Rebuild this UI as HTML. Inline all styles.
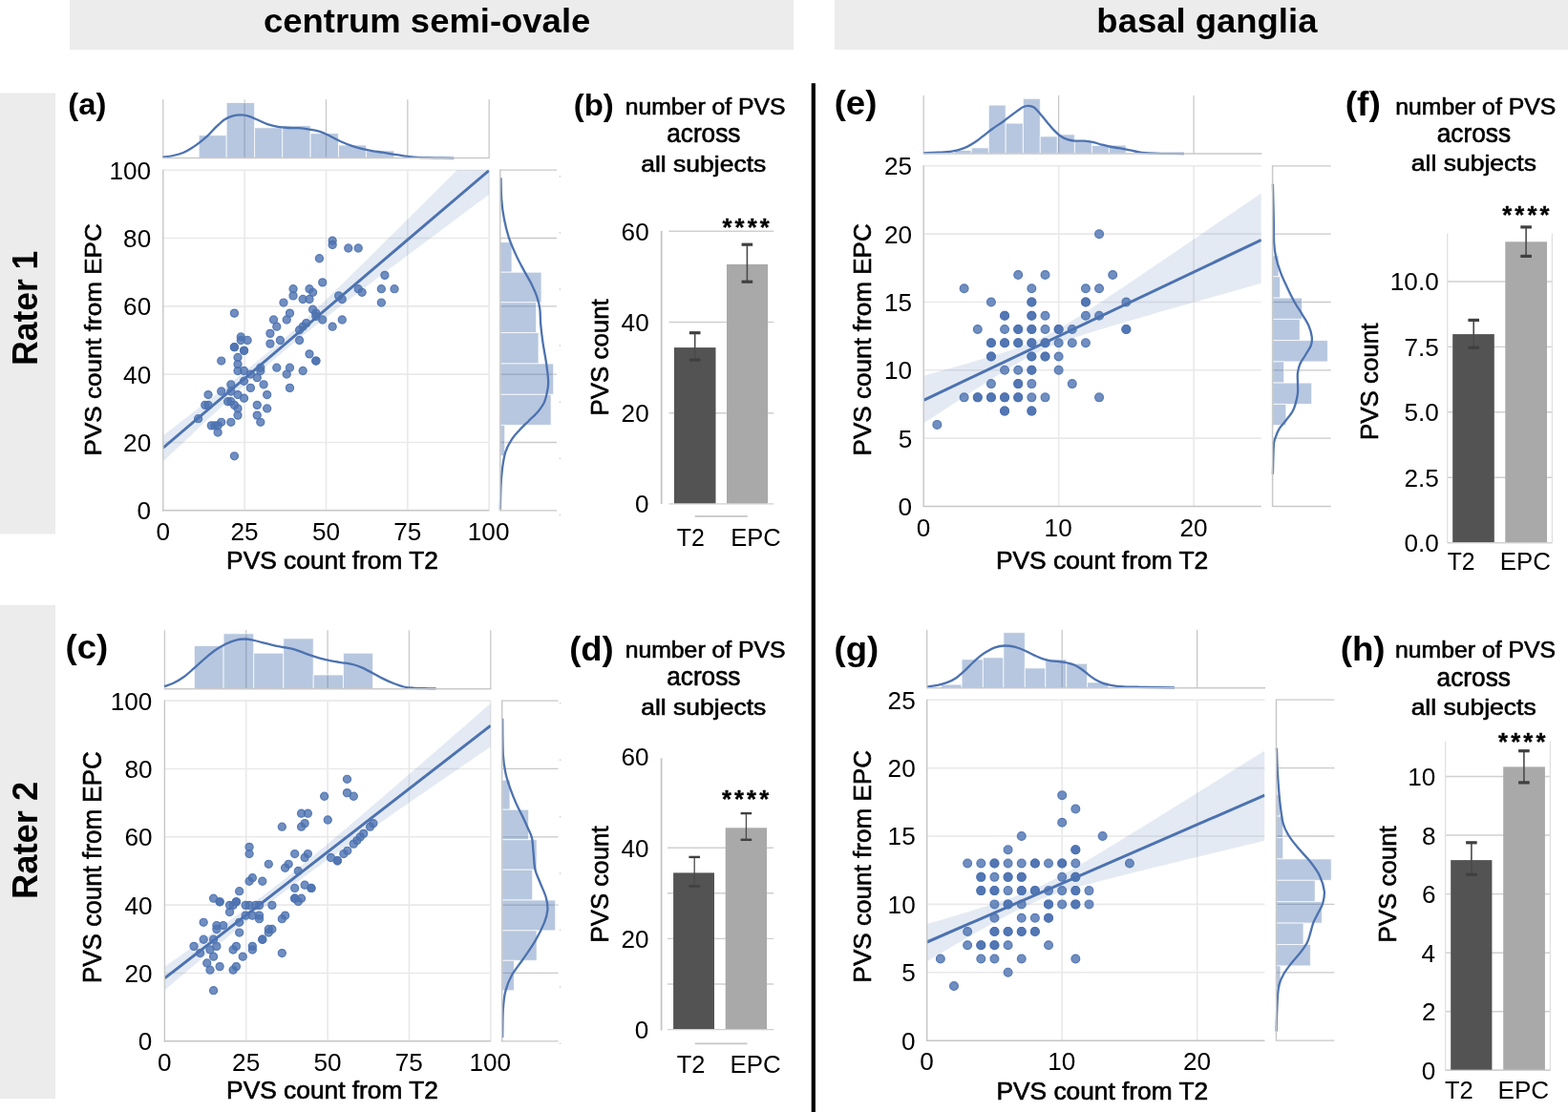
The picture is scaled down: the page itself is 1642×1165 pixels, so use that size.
<!DOCTYPE html>
<html><head><meta charset="utf-8"><title>PVS figure</title>
<style>html,body{margin:0;padding:0;background:#fff;}svg{display:block;}</style>
</head><body>
<svg width="1642" height="1165" viewBox="0 0 1642 1165" font-family="'Liberation Sans', Arial, Helvetica, sans-serif">
<rect x="0" y="0" width="1642" height="1165" fill="#fff"/>
<rect x="73" y="0" width="758" height="52" fill="#ececec"/>
<rect x="874" y="0" width="768" height="52" fill="#ececec"/>
<text transform="translate(275.94,34.3) scale(1.0646,1)" font-size="34.25" font-weight="bold" fill="#000">centrum semi-ovale</text>
<text transform="translate(1148.35,34.3) scale(1.0651,1)" font-size="34.25" font-weight="bold" fill="#000">basal ganglia</text>
<rect x="0" y="97.5" width="58" height="462" fill="#ececec"/>
<rect x="0" y="634" width="58" height="517" fill="#ececec"/>
<text transform="translate(38.7,382.68) rotate(-90) scale(0.9649,1)" font-size="36.67" font-weight="bold">Rater 1</text>
<text transform="translate(39.4,941.94) rotate(-90) scale(0.9673,1)" font-size="37.57" font-weight="bold">Rater 2</text>
<rect x="849.7" y="87.2" width="4.2" height="1077.8" fill="#000"/>
<text transform="translate(71.26,119.99) scale(1.0406,1)" font-size="31.49" font-weight="bold" fill="#000">(a)</text>
<text transform="translate(600.75,120.78) scale(1.0295,1)" font-size="32.02" font-weight="bold" fill="#000">(b)</text>
<text transform="translate(68.47,690.26) scale(1.0621,1)" font-size="34.47" font-weight="bold" fill="#000">(c)</text>
<text transform="translate(596.18,692.21) scale(1.0638,1)" font-size="34.26" font-weight="bold" fill="#000">(d)</text>
<text transform="translate(873.67,120.31) scale(1.0687,1)" font-size="34.26" font-weight="bold" fill="#000">(e)</text>
<text transform="translate(1408.64,120.58) scale(1.0832,1)" font-size="34.36" font-weight="bold" fill="#000">(f)</text>
<text transform="translate(873.47,691.94) scale(1.0564,1)" font-size="34.57" font-weight="bold" fill="#000">(g)</text>
<text transform="translate(1403.66,691.94) scale(1.0638,1)" font-size="34.57" font-weight="bold" fill="#000">(h)</text>
<line x1="256.15" y1="178.2" x2="256.15" y2="534.8" stroke="#e9e9e9" stroke-width="1.6"/>
<line x1="341.5" y1="178.2" x2="341.5" y2="534.8" stroke="#e9e9e9" stroke-width="1.6"/>
<line x1="426.85" y1="178.2" x2="426.85" y2="534.8" stroke="#e9e9e9" stroke-width="1.6"/>
<line x1="512.2" y1="178.2" x2="512.2" y2="534.8" stroke="#e9e9e9" stroke-width="1.6"/>
<line x1="170.8" y1="463.48" x2="512.2" y2="463.48" stroke="#e9e9e9" stroke-width="1.6"/>
<line x1="170.8" y1="392.16" x2="512.2" y2="392.16" stroke="#e9e9e9" stroke-width="1.6"/>
<line x1="170.8" y1="320.84" x2="512.2" y2="320.84" stroke="#e9e9e9" stroke-width="1.6"/>
<line x1="170.8" y1="249.52" x2="512.2" y2="249.52" stroke="#e9e9e9" stroke-width="1.6"/>
<line x1="170.8" y1="178.2" x2="512.2" y2="178.2" stroke="#e9e9e9" stroke-width="1.6"/>
<clipPath id="c1"><rect x="170.8" y="178.2" width="341.4" height="356.6"/></clipPath>
<g clip-path="url(#c1)">
<path d="M170.8,456.3 L175.07,453.01 L179.34,449.72 L183.6,446.42 L187.87,443.12 L192.14,439.81 L196.41,436.5 L200.67,433.18 L204.94,429.86 L209.21,426.53 L213.48,423.2 L217.74,419.85 L222.01,416.5 L226.28,413.14 L230.55,409.78 L234.81,406.4 L239.08,403 L243.35,399.6 L247.62,396.18 L251.88,392.75 L256.15,389.3 L260.42,385.83 L264.69,382.34 L268.95,378.83 L273.22,375.3 L277.49,371.75 L281.75,368.18 L286.02,364.58 L290.29,360.95 L294.56,357.29 L298.83,353.55 L303.09,349.76 L307.36,345.92 L311.63,342.02 L315.89,338.08 L320.16,334.1 L324.43,330.09 L328.7,326.04 L332.97,321.97 L337.23,317.88 L341.5,313.76 L345.77,309.63 L350.04,305.49 L354.3,301.33 L358.57,297.16 L362.84,292.98 L367.11,288.8 L371.37,284.6 L375.64,280.4 L379.91,276.2 L384.18,271.99 L388.44,267.77 L392.71,263.55 L396.98,259.32 L401.25,255.1 L405.51,250.87 L409.78,246.63 L414.05,242.4 L418.32,238.16 L422.58,233.92 L426.85,229.68 L431.12,225.43 L435.39,221.19 L439.65,216.94 L443.92,212.69 L448.19,208.44 L452.46,204.19 L456.72,199.94 L460.99,195.69 L465.26,191.44 L469.53,187.18 L473.79,182.93 L478.06,178.67 L482.33,174.41 L486.6,170.16 L490.86,165.9 L495.13,161.64 L499.4,157.38 L503.67,153.12 L507.93,148.86 L512.2,144.6 L512.2,203.7 L507.93,206.88 L503.67,210.07 L499.4,213.25 L495.13,216.43 L490.86,219.62 L486.6,222.8 L482.33,225.99 L478.06,229.18 L473.79,232.37 L469.53,235.55 L465.26,238.75 L460.99,241.94 L456.72,245.13 L452.46,248.32 L448.19,251.52 L443.92,254.71 L439.65,257.91 L435.39,261.11 L431.12,264.31 L426.85,267.52 L422.58,270.72 L418.32,273.93 L414.05,277.14 L409.78,280.36 L405.51,283.57 L401.25,286.79 L396.98,290.01 L392.71,293.24 L388.44,296.47 L384.18,299.71 L379.91,302.95 L375.64,306.2 L371.37,309.45 L367.11,312.71 L362.84,315.97 L358.57,319.25 L354.3,322.53 L350.04,325.83 L345.77,329.14 L341.5,332.46 L337.23,335.79 L332.97,339.14 L328.7,342.51 L324.43,345.9 L320.16,349.31 L315.89,352.74 L311.63,356.2 L307.36,359.69 L303.09,363.21 L298.83,366.76 L294.56,370.34 L290.29,373.96 L286.02,377.6 L281.75,381.28 L277.49,384.99 L273.22,388.74 L268.95,392.51 L264.69,396.31 L260.42,400.13 L256.15,403.98 L251.88,407.85 L247.62,411.74 L243.35,415.64 L239.08,419.57 L234.81,423.51 L230.55,427.46 L226.28,431.42 L222.01,435.39 L217.74,439.37 L213.48,443.36 L209.21,447.36 L204.94,451.37 L200.67,455.38 L196.41,459.4 L192.14,463.42 L187.87,467.45 L183.6,471.48 L179.34,475.52 L175.07,479.56 L170.8,483.6Z" fill="#4c72b0" fill-opacity="0.15"/>
<circle cx="348.15" cy="252.17" r="4.05" fill="#4c72b0" fill-opacity="0.8" stroke="#4c72b0" stroke-opacity="0.9" stroke-width="1.2"/>
<circle cx="348.15" cy="256.41" r="4.05" fill="#4c72b0" fill-opacity="0.8" stroke="#4c72b0" stroke-opacity="0.9" stroke-width="1.2"/>
<circle cx="364.78" cy="260" r="4.05" fill="#4c72b0" fill-opacity="0.8" stroke="#4c72b0" stroke-opacity="0.9" stroke-width="1.2"/>
<circle cx="375.22" cy="260" r="4.05" fill="#4c72b0" fill-opacity="0.8" stroke="#4c72b0" stroke-opacity="0.9" stroke-width="1.2"/>
<circle cx="334.45" cy="270.76" r="4.05" fill="#4c72b0" fill-opacity="0.8" stroke="#4c72b0" stroke-opacity="0.9" stroke-width="1.2"/>
<circle cx="402.93" cy="288.37" r="4.05" fill="#4c72b0" fill-opacity="0.8" stroke="#4c72b0" stroke-opacity="0.9" stroke-width="1.2"/>
<circle cx="337.72" cy="295.87" r="4.05" fill="#4c72b0" fill-opacity="0.8" stroke="#4c72b0" stroke-opacity="0.9" stroke-width="1.2"/>
<circle cx="307.06" cy="302.72" r="4.05" fill="#4c72b0" fill-opacity="0.8" stroke="#4c72b0" stroke-opacity="0.9" stroke-width="1.2"/>
<circle cx="324.02" cy="302.72" r="4.05" fill="#4c72b0" fill-opacity="0.8" stroke="#4c72b0" stroke-opacity="0.9" stroke-width="1.2"/>
<circle cx="327.61" cy="306.3" r="4.05" fill="#4c72b0" fill-opacity="0.8" stroke="#4c72b0" stroke-opacity="0.9" stroke-width="1.2"/>
<circle cx="375.22" cy="302.72" r="4.05" fill="#4c72b0" fill-opacity="0.8" stroke="#4c72b0" stroke-opacity="0.9" stroke-width="1.2"/>
<circle cx="379.13" cy="306.3" r="4.05" fill="#4c72b0" fill-opacity="0.8" stroke="#4c72b0" stroke-opacity="0.9" stroke-width="1.2"/>
<circle cx="399.35" cy="302.72" r="4.05" fill="#4c72b0" fill-opacity="0.8" stroke="#4c72b0" stroke-opacity="0.9" stroke-width="1.2"/>
<circle cx="413.04" cy="302.72" r="4.05" fill="#4c72b0" fill-opacity="0.8" stroke="#4c72b0" stroke-opacity="0.9" stroke-width="1.2"/>
<circle cx="307.06" cy="309.89" r="4.05" fill="#4c72b0" fill-opacity="0.8" stroke="#4c72b0" stroke-opacity="0.9" stroke-width="1.2"/>
<circle cx="317.17" cy="313.48" r="4.05" fill="#4c72b0" fill-opacity="0.8" stroke="#4c72b0" stroke-opacity="0.9" stroke-width="1.2"/>
<circle cx="324.02" cy="313.48" r="4.05" fill="#4c72b0" fill-opacity="0.8" stroke="#4c72b0" stroke-opacity="0.9" stroke-width="1.2"/>
<circle cx="354.67" cy="309.89" r="4.05" fill="#4c72b0" fill-opacity="0.8" stroke="#4c72b0" stroke-opacity="0.9" stroke-width="1.2"/>
<circle cx="358.26" cy="313.48" r="4.05" fill="#4c72b0" fill-opacity="0.8" stroke="#4c72b0" stroke-opacity="0.9" stroke-width="1.2"/>
<circle cx="296.96" cy="317.06" r="4.05" fill="#4c72b0" fill-opacity="0.8" stroke="#4c72b0" stroke-opacity="0.9" stroke-width="1.2"/>
<circle cx="399.35" cy="317.06" r="4.05" fill="#4c72b0" fill-opacity="0.8" stroke="#4c72b0" stroke-opacity="0.9" stroke-width="1.2"/>
<circle cx="245.43" cy="328.15" r="4.05" fill="#4c72b0" fill-opacity="0.8" stroke="#4c72b0" stroke-opacity="0.9" stroke-width="1.2"/>
<circle cx="303.48" cy="328.15" r="4.05" fill="#4c72b0" fill-opacity="0.8" stroke="#4c72b0" stroke-opacity="0.9" stroke-width="1.2"/>
<circle cx="327.61" cy="324.24" r="4.05" fill="#4c72b0" fill-opacity="0.8" stroke="#4c72b0" stroke-opacity="0.9" stroke-width="1.2"/>
<circle cx="330.87" cy="328.15" r="4.05" fill="#4c72b0" fill-opacity="0.8" stroke="#4c72b0" stroke-opacity="0.9" stroke-width="1.2"/>
<circle cx="330.87" cy="331.41" r="4.05" fill="#4c72b0" fill-opacity="0.8" stroke="#4c72b0" stroke-opacity="0.9" stroke-width="1.2"/>
<circle cx="286.52" cy="335" r="4.05" fill="#4c72b0" fill-opacity="0.8" stroke="#4c72b0" stroke-opacity="0.9" stroke-width="1.2"/>
<circle cx="300.22" cy="335" r="4.05" fill="#4c72b0" fill-opacity="0.8" stroke="#4c72b0" stroke-opacity="0.9" stroke-width="1.2"/>
<circle cx="337.72" cy="335" r="4.05" fill="#4c72b0" fill-opacity="0.8" stroke="#4c72b0" stroke-opacity="0.9" stroke-width="1.2"/>
<circle cx="358.26" cy="335" r="4.05" fill="#4c72b0" fill-opacity="0.8" stroke="#4c72b0" stroke-opacity="0.9" stroke-width="1.2"/>
<circle cx="289.78" cy="342.17" r="4.05" fill="#4c72b0" fill-opacity="0.8" stroke="#4c72b0" stroke-opacity="0.9" stroke-width="1.2"/>
<circle cx="320.76" cy="338.59" r="4.05" fill="#4c72b0" fill-opacity="0.8" stroke="#4c72b0" stroke-opacity="0.9" stroke-width="1.2"/>
<circle cx="317.17" cy="342.17" r="4.05" fill="#4c72b0" fill-opacity="0.8" stroke="#4c72b0" stroke-opacity="0.9" stroke-width="1.2"/>
<circle cx="313.59" cy="345.76" r="4.05" fill="#4c72b0" fill-opacity="0.8" stroke="#4c72b0" stroke-opacity="0.9" stroke-width="1.2"/>
<circle cx="348.15" cy="342.17" r="4.05" fill="#4c72b0" fill-opacity="0.8" stroke="#4c72b0" stroke-opacity="0.9" stroke-width="1.2"/>
<circle cx="282.93" cy="349.35" r="4.05" fill="#4c72b0" fill-opacity="0.8" stroke="#4c72b0" stroke-opacity="0.9" stroke-width="1.2"/>
<circle cx="252.28" cy="352.93" r="4.05" fill="#4c72b0" fill-opacity="0.8" stroke="#4c72b0" stroke-opacity="0.9" stroke-width="1.2"/>
<circle cx="252.28" cy="356.52" r="4.05" fill="#4c72b0" fill-opacity="0.8" stroke="#4c72b0" stroke-opacity="0.9" stroke-width="1.2"/>
<circle cx="259.13" cy="356.52" r="4.05" fill="#4c72b0" fill-opacity="0.8" stroke="#4c72b0" stroke-opacity="0.9" stroke-width="1.2"/>
<circle cx="293.37" cy="356.52" r="4.05" fill="#4c72b0" fill-opacity="0.8" stroke="#4c72b0" stroke-opacity="0.9" stroke-width="1.2"/>
<circle cx="313.59" cy="356.52" r="4.05" fill="#4c72b0" fill-opacity="0.8" stroke="#4c72b0" stroke-opacity="0.9" stroke-width="1.2"/>
<circle cx="282.93" cy="360.11" r="4.05" fill="#4c72b0" fill-opacity="0.8" stroke="#4c72b0" stroke-opacity="0.9" stroke-width="1.2"/>
<circle cx="245.43" cy="363.69" r="4.05" fill="#4c72b0" fill-opacity="0.8" stroke="#4c72b0" stroke-opacity="0.9" stroke-width="1.2"/>
<circle cx="245.43" cy="363.69" r="4.05" fill="#4c72b0" fill-opacity="0.8" stroke="#4c72b0" stroke-opacity="0.9" stroke-width="1.2"/>
<circle cx="255.54" cy="367.28" r="4.05" fill="#4c72b0" fill-opacity="0.8" stroke="#4c72b0" stroke-opacity="0.9" stroke-width="1.2"/>
<circle cx="255.54" cy="367.28" r="4.05" fill="#4c72b0" fill-opacity="0.8" stroke="#4c72b0" stroke-opacity="0.9" stroke-width="1.2"/>
<circle cx="324.02" cy="370.87" r="4.05" fill="#4c72b0" fill-opacity="0.8" stroke="#4c72b0" stroke-opacity="0.9" stroke-width="1.2"/>
<circle cx="231.74" cy="378.04" r="4.05" fill="#4c72b0" fill-opacity="0.8" stroke="#4c72b0" stroke-opacity="0.9" stroke-width="1.2"/>
<circle cx="249.02" cy="374.45" r="4.05" fill="#4c72b0" fill-opacity="0.8" stroke="#4c72b0" stroke-opacity="0.9" stroke-width="1.2"/>
<circle cx="249.02" cy="381.63" r="4.05" fill="#4c72b0" fill-opacity="0.8" stroke="#4c72b0" stroke-opacity="0.9" stroke-width="1.2"/>
<circle cx="330.87" cy="378.04" r="4.05" fill="#4c72b0" fill-opacity="0.8" stroke="#4c72b0" stroke-opacity="0.9" stroke-width="1.2"/>
<circle cx="330.87" cy="378.04" r="4.05" fill="#4c72b0" fill-opacity="0.8" stroke="#4c72b0" stroke-opacity="0.9" stroke-width="1.2"/>
<circle cx="249.02" cy="388.48" r="4.05" fill="#4c72b0" fill-opacity="0.8" stroke="#4c72b0" stroke-opacity="0.9" stroke-width="1.2"/>
<circle cx="255.54" cy="388.48" r="4.05" fill="#4c72b0" fill-opacity="0.8" stroke="#4c72b0" stroke-opacity="0.9" stroke-width="1.2"/>
<circle cx="272.82" cy="385.22" r="4.05" fill="#4c72b0" fill-opacity="0.8" stroke="#4c72b0" stroke-opacity="0.9" stroke-width="1.2"/>
<circle cx="272.82" cy="388.48" r="4.05" fill="#4c72b0" fill-opacity="0.8" stroke="#4c72b0" stroke-opacity="0.9" stroke-width="1.2"/>
<circle cx="289.78" cy="385.22" r="4.05" fill="#4c72b0" fill-opacity="0.8" stroke="#4c72b0" stroke-opacity="0.9" stroke-width="1.2"/>
<circle cx="303.48" cy="385.22" r="4.05" fill="#4c72b0" fill-opacity="0.8" stroke="#4c72b0" stroke-opacity="0.9" stroke-width="1.2"/>
<circle cx="262.39" cy="392.06" r="4.05" fill="#4c72b0" fill-opacity="0.8" stroke="#4c72b0" stroke-opacity="0.9" stroke-width="1.2"/>
<circle cx="269.24" cy="395.65" r="4.05" fill="#4c72b0" fill-opacity="0.8" stroke="#4c72b0" stroke-opacity="0.9" stroke-width="1.2"/>
<circle cx="300.22" cy="392.06" r="4.05" fill="#4c72b0" fill-opacity="0.8" stroke="#4c72b0" stroke-opacity="0.9" stroke-width="1.2"/>
<circle cx="317.17" cy="388.48" r="4.05" fill="#4c72b0" fill-opacity="0.8" stroke="#4c72b0" stroke-opacity="0.9" stroke-width="1.2"/>
<circle cx="255.54" cy="399.24" r="4.05" fill="#4c72b0" fill-opacity="0.8" stroke="#4c72b0" stroke-opacity="0.9" stroke-width="1.2"/>
<circle cx="241.85" cy="402.82" r="4.05" fill="#4c72b0" fill-opacity="0.8" stroke="#4c72b0" stroke-opacity="0.9" stroke-width="1.2"/>
<circle cx="276.09" cy="402.82" r="4.05" fill="#4c72b0" fill-opacity="0.8" stroke="#4c72b0" stroke-opacity="0.9" stroke-width="1.2"/>
<circle cx="231.74" cy="410" r="4.05" fill="#4c72b0" fill-opacity="0.8" stroke="#4c72b0" stroke-opacity="0.9" stroke-width="1.2"/>
<circle cx="241.85" cy="410" r="4.05" fill="#4c72b0" fill-opacity="0.8" stroke="#4c72b0" stroke-opacity="0.9" stroke-width="1.2"/>
<circle cx="262.39" cy="406.41" r="4.05" fill="#4c72b0" fill-opacity="0.8" stroke="#4c72b0" stroke-opacity="0.9" stroke-width="1.2"/>
<circle cx="303.48" cy="406.41" r="4.05" fill="#4c72b0" fill-opacity="0.8" stroke="#4c72b0" stroke-opacity="0.9" stroke-width="1.2"/>
<circle cx="218.04" cy="413.58" r="4.05" fill="#4c72b0" fill-opacity="0.8" stroke="#4c72b0" stroke-opacity="0.9" stroke-width="1.2"/>
<circle cx="249.02" cy="413.58" r="4.05" fill="#4c72b0" fill-opacity="0.8" stroke="#4c72b0" stroke-opacity="0.9" stroke-width="1.2"/>
<circle cx="255.54" cy="417.17" r="4.05" fill="#4c72b0" fill-opacity="0.8" stroke="#4c72b0" stroke-opacity="0.9" stroke-width="1.2"/>
<circle cx="279.67" cy="413.58" r="4.05" fill="#4c72b0" fill-opacity="0.8" stroke="#4c72b0" stroke-opacity="0.9" stroke-width="1.2"/>
<circle cx="238.59" cy="420.76" r="4.05" fill="#4c72b0" fill-opacity="0.8" stroke="#4c72b0" stroke-opacity="0.9" stroke-width="1.2"/>
<circle cx="241.85" cy="420.76" r="4.05" fill="#4c72b0" fill-opacity="0.8" stroke="#4c72b0" stroke-opacity="0.9" stroke-width="1.2"/>
<circle cx="245.43" cy="424.35" r="4.05" fill="#4c72b0" fill-opacity="0.8" stroke="#4c72b0" stroke-opacity="0.9" stroke-width="1.2"/>
<circle cx="214.78" cy="424.35" r="4.05" fill="#4c72b0" fill-opacity="0.8" stroke="#4c72b0" stroke-opacity="0.9" stroke-width="1.2"/>
<circle cx="218.04" cy="424.35" r="4.05" fill="#4c72b0" fill-opacity="0.8" stroke="#4c72b0" stroke-opacity="0.9" stroke-width="1.2"/>
<circle cx="269.24" cy="424.35" r="4.05" fill="#4c72b0" fill-opacity="0.8" stroke="#4c72b0" stroke-opacity="0.9" stroke-width="1.2"/>
<circle cx="249.02" cy="427.93" r="4.05" fill="#4c72b0" fill-opacity="0.8" stroke="#4c72b0" stroke-opacity="0.9" stroke-width="1.2"/>
<circle cx="279.67" cy="427.93" r="4.05" fill="#4c72b0" fill-opacity="0.8" stroke="#4c72b0" stroke-opacity="0.9" stroke-width="1.2"/>
<circle cx="249.02" cy="435.11" r="4.05" fill="#4c72b0" fill-opacity="0.8" stroke="#4c72b0" stroke-opacity="0.9" stroke-width="1.2"/>
<circle cx="269.24" cy="435.11" r="4.05" fill="#4c72b0" fill-opacity="0.8" stroke="#4c72b0" stroke-opacity="0.9" stroke-width="1.2"/>
<circle cx="207.61" cy="438.69" r="4.05" fill="#4c72b0" fill-opacity="0.8" stroke="#4c72b0" stroke-opacity="0.9" stroke-width="1.2"/>
<circle cx="231.74" cy="442.28" r="4.05" fill="#4c72b0" fill-opacity="0.8" stroke="#4c72b0" stroke-opacity="0.9" stroke-width="1.2"/>
<circle cx="241.85" cy="442.28" r="4.05" fill="#4c72b0" fill-opacity="0.8" stroke="#4c72b0" stroke-opacity="0.9" stroke-width="1.2"/>
<circle cx="272.82" cy="442.28" r="4.05" fill="#4c72b0" fill-opacity="0.8" stroke="#4c72b0" stroke-opacity="0.9" stroke-width="1.2"/>
<circle cx="221.3" cy="445.87" r="4.05" fill="#4c72b0" fill-opacity="0.8" stroke="#4c72b0" stroke-opacity="0.9" stroke-width="1.2"/>
<circle cx="224.89" cy="445.87" r="4.05" fill="#4c72b0" fill-opacity="0.8" stroke="#4c72b0" stroke-opacity="0.9" stroke-width="1.2"/>
<circle cx="228.15" cy="445.87" r="4.05" fill="#4c72b0" fill-opacity="0.8" stroke="#4c72b0" stroke-opacity="0.9" stroke-width="1.2"/>
<circle cx="228.15" cy="453.04" r="4.05" fill="#4c72b0" fill-opacity="0.8" stroke="#4c72b0" stroke-opacity="0.9" stroke-width="1.2"/>
<circle cx="245.43" cy="477.82" r="4.05" fill="#4c72b0" fill-opacity="0.8" stroke="#4c72b0" stroke-opacity="0.9" stroke-width="1.2"/>
<line x1="170.8" y1="469.2" x2="512.2" y2="178.5" stroke="#4c72b0" stroke-width="3"/>
</g>
<line x1="170.8" y1="177.7" x2="170.8" y2="535.4" stroke="#c6c6c6" stroke-width="1.4"/>
<line x1="170.2" y1="534.8" x2="512.2" y2="534.8" stroke="#c6c6c6" stroke-width="1.4"/>
<line x1="170.8" y1="104.2" x2="170.8" y2="165.6" stroke="#c9c9c9" stroke-width="1.3"/>
<line x1="256.15" y1="104.2" x2="256.15" y2="165.6" stroke="#c9c9c9" stroke-width="1.3"/>
<line x1="341.5" y1="104.2" x2="341.5" y2="165.6" stroke="#c9c9c9" stroke-width="1.3"/>
<line x1="426.85" y1="104.2" x2="426.85" y2="165.6" stroke="#c9c9c9" stroke-width="1.3"/>
<line x1="512.2" y1="104.2" x2="512.2" y2="165.6" stroke="#c9c9c9" stroke-width="1.3"/>
<rect x="208.2" y="141.7" width="29" height="23.9" fill="#4c72b0" fill-opacity="0.4" stroke="#fff" stroke-opacity="0.75" stroke-width="1"/>
<rect x="237.2" y="107.5" width="29.4" height="58.1" fill="#4c72b0" fill-opacity="0.4" stroke="#fff" stroke-opacity="0.75" stroke-width="1"/>
<rect x="266.6" y="133.8" width="29.1" height="31.8" fill="#4c72b0" fill-opacity="0.4" stroke="#fff" stroke-opacity="0.75" stroke-width="1"/>
<rect x="295.7" y="131.6" width="29.4" height="34" fill="#4c72b0" fill-opacity="0.4" stroke="#fff" stroke-opacity="0.75" stroke-width="1"/>
<rect x="325.1" y="139.7" width="29.4" height="25.9" fill="#4c72b0" fill-opacity="0.4" stroke="#fff" stroke-opacity="0.75" stroke-width="1"/>
<rect x="354.5" y="152" width="29.1" height="13.6" fill="#4c72b0" fill-opacity="0.4" stroke="#fff" stroke-opacity="0.75" stroke-width="1"/>
<rect x="383.6" y="157.9" width="29.2" height="7.7" fill="#4c72b0" fill-opacity="0.4" stroke="#fff" stroke-opacity="0.75" stroke-width="1"/>
<path d="M170.5,164.7 C172.32,164.42 177.75,163.83 181.4,163 C185.05,162.17 189.1,161.07 192.4,159.7 C195.7,158.33 198.45,156.53 201.2,154.8 C203.95,153.07 206.17,151.4 208.9,149.3 C211.63,147.2 214.68,144.93 217.6,142.2 C220.52,139.47 223.47,135.73 226.4,132.9 C229.33,130.07 232.28,127.12 235.2,125.2 C238.12,123.28 241.17,122.22 243.9,121.4 C246.63,120.58 249.03,120.3 251.6,120.3 C254.17,120.3 256.38,120.58 259.3,121.4 C262.22,122.22 265.63,123.75 269.1,125.2 C272.57,126.65 276.43,128.82 280.1,130.1 C283.77,131.38 287.45,132.25 291.1,132.9 C294.75,133.55 298.35,133.78 302,134 C305.65,134.22 309.33,133.93 313,134.2 C316.67,134.47 320.33,135 324,135.6 C327.67,136.2 331.33,136.6 335,137.8 C338.67,139 342.35,141.07 346,142.8 C349.65,144.53 353.25,146.57 356.9,148.2 C360.55,149.83 364.23,151.32 367.9,152.6 C371.57,153.88 375.25,154.98 378.9,155.9 C382.55,156.82 386.15,157.47 389.8,158.1 C393.45,158.73 397.15,159.12 400.8,159.7 C404.45,160.28 408.05,160.98 411.7,161.6 C415.35,162.22 419.03,162.88 422.7,163.4 C426.37,163.92 430.05,164.42 433.7,164.7 C437.35,164.98 440.95,165 444.6,165.1 C448.25,165.2 450.48,165.22 455.6,165.3 C460.72,165.38 472.02,165.55 475.3,165.6" fill="none" stroke="#4c72b0" stroke-width="2.3"/>
<line x1="170.2" y1="165.6" x2="512.8" y2="165.6" stroke="#c9c9c9" stroke-width="1.5"/>
<line x1="523.8" y1="534.8" x2="583" y2="534.8" stroke="#c9c9c9" stroke-width="1.3"/>
<line x1="523.8" y1="463.48" x2="583" y2="463.48" stroke="#c9c9c9" stroke-width="1.3"/>
<line x1="523.8" y1="392.16" x2="583" y2="392.16" stroke="#c9c9c9" stroke-width="1.3"/>
<line x1="523.8" y1="320.84" x2="583" y2="320.84" stroke="#c9c9c9" stroke-width="1.3"/>
<line x1="523.8" y1="249.52" x2="583" y2="249.52" stroke="#c9c9c9" stroke-width="1.3"/>
<line x1="523.8" y1="178.2" x2="583" y2="178.2" stroke="#c9c9c9" stroke-width="1.3"/>
<rect x="523.8" y="253.7" width="12.2" height="31.5" fill="#4c72b0" fill-opacity="0.4" stroke="#fff" stroke-opacity="0.75" stroke-width="1"/>
<rect x="523.8" y="285.2" width="43.2" height="31.6" fill="#4c72b0" fill-opacity="0.4" stroke="#fff" stroke-opacity="0.75" stroke-width="1"/>
<rect x="523.8" y="316.8" width="37.8" height="31.8" fill="#4c72b0" fill-opacity="0.4" stroke="#fff" stroke-opacity="0.75" stroke-width="1"/>
<rect x="523.8" y="348.6" width="40.2" height="32.4" fill="#4c72b0" fill-opacity="0.4" stroke="#fff" stroke-opacity="0.75" stroke-width="1"/>
<rect x="523.8" y="381" width="55.9" height="32.3" fill="#4c72b0" fill-opacity="0.4" stroke="#fff" stroke-opacity="0.75" stroke-width="1"/>
<rect x="523.8" y="413.3" width="53.3" height="32.1" fill="#4c72b0" fill-opacity="0.4" stroke="#fff" stroke-opacity="0.75" stroke-width="1"/>
<rect x="523.8" y="445.4" width="4.9" height="32.2" fill="#4c72b0" fill-opacity="0.4" stroke="#fff" stroke-opacity="0.75" stroke-width="1"/>
<path d="M524.5,186.3 C524.62,190.1 524.65,202.03 525.2,209.1 C525.75,216.17 526.55,222.17 527.8,228.7 C529.05,235.23 530.8,242.32 532.7,248.3 C534.6,254.28 536.77,259.17 539.2,264.6 C541.63,270.03 544.58,275.73 547.3,280.9 C550.02,286.07 553.05,290.72 555.5,295.6 C557.95,300.48 560.37,305.58 562,310.2 C563.63,314.82 564.6,318.4 565.3,323.3 C566,328.2 565.67,333.62 566.2,339.6 C566.73,345.58 567.57,352.68 568.5,359.2 C569.43,365.72 570.87,372.18 571.8,378.7 C572.73,385.22 573.83,393.4 574.1,398.3 C574.37,403.2 574.07,404.3 573.4,408.1 C572.73,411.9 571.73,417.3 570.1,421.1 C568.47,424.9 566.3,427.63 563.6,430.9 C560.9,434.17 557.15,437.43 553.9,440.7 C550.65,443.97 547.1,447.23 544.1,450.5 C541.1,453.77 538.35,456.5 535.9,460.3 C533.45,464.1 531.02,468.42 529.4,473.3 C527.78,478.18 527.02,483.62 526.2,489.6 C525.38,495.58 524.88,501.85 524.5,509.2 C524.12,516.55 524,529.62 523.9,533.7" fill="none" stroke="#4c72b0" stroke-width="2.3"/>
<line x1="523.8" y1="177.6" x2="523.8" y2="535.4" stroke="#c9c9c9" stroke-width="1.5"/>
<text transform="translate(143.5,544.26) scale(1.0300,1)" font-size="25.4" font-weight="normal" fill="#000">0</text>
<text transform="translate(129.11,472.94) scale(1.0300,1)" font-size="25.4" font-weight="normal" fill="#000">20</text>
<text transform="translate(129.11,401.62) scale(1.0300,1)" font-size="25.4" font-weight="normal" fill="#000">40</text>
<text transform="translate(129.11,330.3) scale(1.0300,1)" font-size="25.4" font-weight="normal" fill="#000">60</text>
<text transform="translate(129.11,258.98) scale(1.0300,1)" font-size="25.4" font-weight="normal" fill="#000">80</text>
<text transform="translate(114.46,187.66) scale(1.0300,1)" font-size="25.4" font-weight="normal" fill="#000">100</text>
<text transform="translate(163.47,566.05) scale(1.0300,1)" font-size="25.4" font-weight="normal" fill="#000">0</text>
<text transform="translate(241.5,566.05) scale(1.0300,1)" font-size="25.4" font-weight="normal" fill="#000">25</text>
<text transform="translate(326.98,566.05) scale(1.0300,1)" font-size="25.4" font-weight="normal" fill="#000">50</text>
<text transform="translate(412.2,566.05) scale(1.0300,1)" font-size="25.4" font-weight="normal" fill="#000">75</text>
<text transform="translate(489.83,566.05) scale(1.0300,1)" font-size="25.4" font-weight="normal" fill="#000">100</text>
<text transform="translate(237.09,596.3) scale(1.0318,1)" font-size="25.53" font-weight="normal" fill="#000" stroke="#000" stroke-width="0.6">PVS count from T2</text>
<text transform="translate(105.6,477.49) rotate(-90) scale(1.0501,1)" font-size="24.82" font-weight="normal" stroke="#000" stroke-width="0.6">PVS count from EPC</text>
<line x1="257.75" y1="734.1" x2="257.75" y2="1090.8" stroke="#e9e9e9" stroke-width="1.6"/>
<line x1="343.1" y1="734.1" x2="343.1" y2="1090.8" stroke="#e9e9e9" stroke-width="1.6"/>
<line x1="428.45" y1="734.1" x2="428.45" y2="1090.8" stroke="#e9e9e9" stroke-width="1.6"/>
<line x1="513.8" y1="734.1" x2="513.8" y2="1090.8" stroke="#e9e9e9" stroke-width="1.6"/>
<line x1="172.4" y1="1019.46" x2="513.8" y2="1019.46" stroke="#e9e9e9" stroke-width="1.6"/>
<line x1="172.4" y1="948.12" x2="513.8" y2="948.12" stroke="#e9e9e9" stroke-width="1.6"/>
<line x1="172.4" y1="876.78" x2="513.8" y2="876.78" stroke="#e9e9e9" stroke-width="1.6"/>
<line x1="172.4" y1="805.44" x2="513.8" y2="805.44" stroke="#e9e9e9" stroke-width="1.6"/>
<line x1="172.4" y1="734.1" x2="513.8" y2="734.1" stroke="#e9e9e9" stroke-width="1.6"/>
<clipPath id="c2"><rect x="172.4" y="734.1" width="341.4" height="356.7"/></clipPath>
<g clip-path="url(#c2)">
<path d="M172.4,1012.7 L176.67,1009.71 L180.94,1006.71 L185.2,1003.71 L189.47,1000.7 L193.74,997.69 L198,994.68 L202.27,991.66 L206.54,988.64 L210.81,985.6 L215.07,982.56 L219.34,979.52 L223.61,976.46 L227.88,973.4 L232.14,970.33 L236.41,967.24 L240.68,964.15 L244.95,961.04 L249.22,957.92 L253.48,954.79 L257.75,951.64 L262.02,948.47 L266.28,945.28 L270.55,942.08 L274.82,938.85 L279.09,935.61 L283.36,932.35 L287.62,929.06 L291.89,925.75 L296.16,922.42 L300.43,919.05 L304.69,915.66 L308.96,912.25 L313.23,908.81 L317.5,905.35 L321.76,901.86 L326.03,898.35 L330.3,894.83 L334.56,891.29 L338.83,887.73 L343.1,884.16 L347.37,880.57 L351.63,876.98 L355.9,873.37 L360.17,869.75 L364.44,866.13 L368.71,862.49 L372.97,858.85 L377.24,855.2 L381.51,851.55 L385.77,847.89 L390.04,844.23 L394.31,840.56 L398.58,836.88 L402.85,833.21 L407.11,829.53 L411.38,825.84 L415.65,822.16 L419.91,818.47 L424.18,814.78 L428.45,811.08 L432.72,807.39 L436.99,803.69 L441.25,799.99 L445.52,796.29 L449.79,792.58 L454.05,788.88 L458.32,785.17 L462.59,781.47 L466.86,777.76 L471.12,774.05 L475.39,770.34 L479.66,766.63 L483.93,762.91 L488.19,759.2 L492.46,755.48 L496.73,751.77 L501,748.05 L505.26,744.34 L509.53,740.62 L513.8,736.9 L513.8,782.3 L509.53,785.22 L505.26,788.15 L501,791.07 L496.73,794 L492.46,796.93 L488.19,799.86 L483.93,802.78 L479.66,805.71 L475.39,808.64 L471.12,811.58 L466.86,814.51 L462.59,817.44 L458.32,820.38 L454.05,823.32 L449.79,826.25 L445.52,829.19 L441.25,832.13 L436.99,835.08 L432.72,838.02 L428.45,840.97 L424.18,843.92 L419.91,846.87 L415.65,849.82 L411.38,852.78 L407.11,855.74 L402.85,858.7 L398.58,861.67 L394.31,864.64 L390.04,867.62 L385.77,870.6 L381.51,873.58 L377.24,876.57 L372.97,879.57 L368.71,882.57 L364.44,885.58 L360.17,888.59 L355.9,891.62 L351.63,894.66 L347.37,897.7 L343.1,900.76 L338.83,903.83 L334.56,906.91 L330.3,910.01 L326.03,913.12 L321.76,916.25 L317.5,919.4 L313.23,922.57 L308.96,925.76 L304.69,928.98 L300.43,932.21 L296.16,935.47 L291.89,938.76 L287.62,942.07 L283.36,945.4 L279.09,948.76 L274.82,952.13 L270.55,955.53 L266.28,958.95 L262.02,962.4 L257.75,965.85 L253.48,969.33 L249.22,972.82 L244.95,976.33 L240.68,979.85 L236.41,983.39 L232.14,986.93 L227.88,990.49 L223.61,994.06 L219.34,997.64 L215.07,1001.22 L210.81,1004.81 L206.54,1008.41 L202.27,1012.02 L198,1015.63 L193.74,1019.25 L189.47,1022.87 L185.2,1026.5 L180.94,1030.13 L176.67,1033.76 L172.4,1037.4Z" fill="#4c72b0" fill-opacity="0.15"/>
<circle cx="363.48" cy="816.3" r="4.05" fill="#4c72b0" fill-opacity="0.8" stroke="#4c72b0" stroke-opacity="0.9" stroke-width="1.2"/>
<circle cx="363.48" cy="830.65" r="4.05" fill="#4c72b0" fill-opacity="0.8" stroke="#4c72b0" stroke-opacity="0.9" stroke-width="1.2"/>
<circle cx="370.32" cy="834.24" r="4.05" fill="#4c72b0" fill-opacity="0.8" stroke="#4c72b0" stroke-opacity="0.9" stroke-width="1.2"/>
<circle cx="339.67" cy="834.24" r="4.05" fill="#4c72b0" fill-opacity="0.8" stroke="#4c72b0" stroke-opacity="0.9" stroke-width="1.2"/>
<circle cx="315.54" cy="852.17" r="4.05" fill="#4c72b0" fill-opacity="0.8" stroke="#4c72b0" stroke-opacity="0.9" stroke-width="1.2"/>
<circle cx="322.39" cy="852.17" r="4.05" fill="#4c72b0" fill-opacity="0.8" stroke="#4c72b0" stroke-opacity="0.9" stroke-width="1.2"/>
<circle cx="343.26" cy="859.02" r="4.05" fill="#4c72b0" fill-opacity="0.8" stroke="#4c72b0" stroke-opacity="0.9" stroke-width="1.2"/>
<circle cx="295.32" cy="866.19" r="4.05" fill="#4c72b0" fill-opacity="0.8" stroke="#4c72b0" stroke-opacity="0.9" stroke-width="1.2"/>
<circle cx="315.54" cy="866.19" r="4.05" fill="#4c72b0" fill-opacity="0.8" stroke="#4c72b0" stroke-opacity="0.9" stroke-width="1.2"/>
<circle cx="319.13" cy="862.61" r="4.05" fill="#4c72b0" fill-opacity="0.8" stroke="#4c72b0" stroke-opacity="0.9" stroke-width="1.2"/>
<circle cx="390.87" cy="862.61" r="4.05" fill="#4c72b0" fill-opacity="0.8" stroke="#4c72b0" stroke-opacity="0.9" stroke-width="1.2"/>
<circle cx="387.61" cy="866.19" r="4.05" fill="#4c72b0" fill-opacity="0.8" stroke="#4c72b0" stroke-opacity="0.9" stroke-width="1.2"/>
<circle cx="380.76" cy="873.37" r="4.05" fill="#4c72b0" fill-opacity="0.8" stroke="#4c72b0" stroke-opacity="0.9" stroke-width="1.2"/>
<circle cx="377.17" cy="876.95" r="4.05" fill="#4c72b0" fill-opacity="0.8" stroke="#4c72b0" stroke-opacity="0.9" stroke-width="1.2"/>
<circle cx="373.91" cy="880.54" r="4.05" fill="#4c72b0" fill-opacity="0.8" stroke="#4c72b0" stroke-opacity="0.9" stroke-width="1.2"/>
<circle cx="370.32" cy="884.13" r="4.05" fill="#4c72b0" fill-opacity="0.8" stroke="#4c72b0" stroke-opacity="0.9" stroke-width="1.2"/>
<circle cx="363.8" cy="891.3" r="4.05" fill="#4c72b0" fill-opacity="0.8" stroke="#4c72b0" stroke-opacity="0.9" stroke-width="1.2"/>
<circle cx="359.89" cy="894.56" r="4.05" fill="#4c72b0" fill-opacity="0.8" stroke="#4c72b0" stroke-opacity="0.9" stroke-width="1.2"/>
<circle cx="353.37" cy="901.74" r="4.05" fill="#4c72b0" fill-opacity="0.8" stroke="#4c72b0" stroke-opacity="0.9" stroke-width="1.2"/>
<circle cx="353.37" cy="901.74" r="4.05" fill="#4c72b0" fill-opacity="0.8" stroke="#4c72b0" stroke-opacity="0.9" stroke-width="1.2"/>
<circle cx="346.52" cy="898.48" r="4.05" fill="#4c72b0" fill-opacity="0.8" stroke="#4c72b0" stroke-opacity="0.9" stroke-width="1.2"/>
<circle cx="261.09" cy="887.39" r="4.05" fill="#4c72b0" fill-opacity="0.8" stroke="#4c72b0" stroke-opacity="0.9" stroke-width="1.2"/>
<circle cx="261.09" cy="894.56" r="4.05" fill="#4c72b0" fill-opacity="0.8" stroke="#4c72b0" stroke-opacity="0.9" stroke-width="1.2"/>
<circle cx="308.69" cy="894.56" r="4.05" fill="#4c72b0" fill-opacity="0.8" stroke="#4c72b0" stroke-opacity="0.9" stroke-width="1.2"/>
<circle cx="322.39" cy="894.56" r="4.05" fill="#4c72b0" fill-opacity="0.8" stroke="#4c72b0" stroke-opacity="0.9" stroke-width="1.2"/>
<circle cx="319.13" cy="898.48" r="4.05" fill="#4c72b0" fill-opacity="0.8" stroke="#4c72b0" stroke-opacity="0.9" stroke-width="1.2"/>
<circle cx="281.3" cy="905.32" r="4.05" fill="#4c72b0" fill-opacity="0.8" stroke="#4c72b0" stroke-opacity="0.9" stroke-width="1.2"/>
<circle cx="302.17" cy="905.32" r="4.05" fill="#4c72b0" fill-opacity="0.8" stroke="#4c72b0" stroke-opacity="0.9" stroke-width="1.2"/>
<circle cx="298.59" cy="909.24" r="4.05" fill="#4c72b0" fill-opacity="0.8" stroke="#4c72b0" stroke-opacity="0.9" stroke-width="1.2"/>
<circle cx="312.28" cy="912.5" r="4.05" fill="#4c72b0" fill-opacity="0.8" stroke="#4c72b0" stroke-opacity="0.9" stroke-width="1.2"/>
<circle cx="264.35" cy="919.67" r="4.05" fill="#4c72b0" fill-opacity="0.8" stroke="#4c72b0" stroke-opacity="0.9" stroke-width="1.2"/>
<circle cx="261.09" cy="923.26" r="4.05" fill="#4c72b0" fill-opacity="0.8" stroke="#4c72b0" stroke-opacity="0.9" stroke-width="1.2"/>
<circle cx="274.78" cy="923.26" r="4.05" fill="#4c72b0" fill-opacity="0.8" stroke="#4c72b0" stroke-opacity="0.9" stroke-width="1.2"/>
<circle cx="308.69" cy="930.43" r="4.05" fill="#4c72b0" fill-opacity="0.8" stroke="#4c72b0" stroke-opacity="0.9" stroke-width="1.2"/>
<circle cx="319.13" cy="927.17" r="4.05" fill="#4c72b0" fill-opacity="0.8" stroke="#4c72b0" stroke-opacity="0.9" stroke-width="1.2"/>
<circle cx="325.98" cy="930.43" r="4.05" fill="#4c72b0" fill-opacity="0.8" stroke="#4c72b0" stroke-opacity="0.9" stroke-width="1.2"/>
<circle cx="325.98" cy="930.43" r="4.05" fill="#4c72b0" fill-opacity="0.8" stroke="#4c72b0" stroke-opacity="0.9" stroke-width="1.2"/>
<circle cx="250.65" cy="933.69" r="4.05" fill="#4c72b0" fill-opacity="0.8" stroke="#4c72b0" stroke-opacity="0.9" stroke-width="1.2"/>
<circle cx="223.59" cy="941.19" r="4.05" fill="#4c72b0" fill-opacity="0.8" stroke="#4c72b0" stroke-opacity="0.9" stroke-width="1.2"/>
<circle cx="230.11" cy="944.78" r="4.05" fill="#4c72b0" fill-opacity="0.8" stroke="#4c72b0" stroke-opacity="0.9" stroke-width="1.2"/>
<circle cx="230.11" cy="944.78" r="4.05" fill="#4c72b0" fill-opacity="0.8" stroke="#4c72b0" stroke-opacity="0.9" stroke-width="1.2"/>
<circle cx="247.39" cy="944.78" r="4.05" fill="#4c72b0" fill-opacity="0.8" stroke="#4c72b0" stroke-opacity="0.9" stroke-width="1.2"/>
<circle cx="247.39" cy="944.78" r="4.05" fill="#4c72b0" fill-opacity="0.8" stroke="#4c72b0" stroke-opacity="0.9" stroke-width="1.2"/>
<circle cx="308.69" cy="941.19" r="4.05" fill="#4c72b0" fill-opacity="0.8" stroke="#4c72b0" stroke-opacity="0.9" stroke-width="1.2"/>
<circle cx="308.69" cy="941.19" r="4.05" fill="#4c72b0" fill-opacity="0.8" stroke="#4c72b0" stroke-opacity="0.9" stroke-width="1.2"/>
<circle cx="312.28" cy="944.45" r="4.05" fill="#4c72b0" fill-opacity="0.8" stroke="#4c72b0" stroke-opacity="0.9" stroke-width="1.2"/>
<circle cx="315.54" cy="941.19" r="4.05" fill="#4c72b0" fill-opacity="0.8" stroke="#4c72b0" stroke-opacity="0.9" stroke-width="1.2"/>
<circle cx="240.54" cy="948.37" r="4.05" fill="#4c72b0" fill-opacity="0.8" stroke="#4c72b0" stroke-opacity="0.9" stroke-width="1.2"/>
<circle cx="244.13" cy="948.37" r="4.05" fill="#4c72b0" fill-opacity="0.8" stroke="#4c72b0" stroke-opacity="0.9" stroke-width="1.2"/>
<circle cx="257.17" cy="948.37" r="4.05" fill="#4c72b0" fill-opacity="0.8" stroke="#4c72b0" stroke-opacity="0.9" stroke-width="1.2"/>
<circle cx="261.09" cy="948.37" r="4.05" fill="#4c72b0" fill-opacity="0.8" stroke="#4c72b0" stroke-opacity="0.9" stroke-width="1.2"/>
<circle cx="267.61" cy="948.37" r="4.05" fill="#4c72b0" fill-opacity="0.8" stroke="#4c72b0" stroke-opacity="0.9" stroke-width="1.2"/>
<circle cx="271.52" cy="948.37" r="4.05" fill="#4c72b0" fill-opacity="0.8" stroke="#4c72b0" stroke-opacity="0.9" stroke-width="1.2"/>
<circle cx="284.89" cy="948.37" r="4.05" fill="#4c72b0" fill-opacity="0.8" stroke="#4c72b0" stroke-opacity="0.9" stroke-width="1.2"/>
<circle cx="240.54" cy="955.54" r="4.05" fill="#4c72b0" fill-opacity="0.8" stroke="#4c72b0" stroke-opacity="0.9" stroke-width="1.2"/>
<circle cx="257.17" cy="959.13" r="4.05" fill="#4c72b0" fill-opacity="0.8" stroke="#4c72b0" stroke-opacity="0.9" stroke-width="1.2"/>
<circle cx="264.35" cy="959.13" r="4.05" fill="#4c72b0" fill-opacity="0.8" stroke="#4c72b0" stroke-opacity="0.9" stroke-width="1.2"/>
<circle cx="271.52" cy="959.13" r="4.05" fill="#4c72b0" fill-opacity="0.8" stroke="#4c72b0" stroke-opacity="0.9" stroke-width="1.2"/>
<circle cx="271.52" cy="962.71" r="4.05" fill="#4c72b0" fill-opacity="0.8" stroke="#4c72b0" stroke-opacity="0.9" stroke-width="1.2"/>
<circle cx="298.59" cy="959.13" r="4.05" fill="#4c72b0" fill-opacity="0.8" stroke="#4c72b0" stroke-opacity="0.9" stroke-width="1.2"/>
<circle cx="295.32" cy="962.71" r="4.05" fill="#4c72b0" fill-opacity="0.8" stroke="#4c72b0" stroke-opacity="0.9" stroke-width="1.2"/>
<circle cx="213.15" cy="966.3" r="4.05" fill="#4c72b0" fill-opacity="0.8" stroke="#4c72b0" stroke-opacity="0.9" stroke-width="1.2"/>
<circle cx="250.65" cy="966.3" r="4.05" fill="#4c72b0" fill-opacity="0.8" stroke="#4c72b0" stroke-opacity="0.9" stroke-width="1.2"/>
<circle cx="226.85" cy="969.56" r="4.05" fill="#4c72b0" fill-opacity="0.8" stroke="#4c72b0" stroke-opacity="0.9" stroke-width="1.2"/>
<circle cx="233.69" cy="969.56" r="4.05" fill="#4c72b0" fill-opacity="0.8" stroke="#4c72b0" stroke-opacity="0.9" stroke-width="1.2"/>
<circle cx="226.85" cy="973.48" r="4.05" fill="#4c72b0" fill-opacity="0.8" stroke="#4c72b0" stroke-opacity="0.9" stroke-width="1.2"/>
<circle cx="281.3" cy="973.48" r="4.05" fill="#4c72b0" fill-opacity="0.8" stroke="#4c72b0" stroke-opacity="0.9" stroke-width="1.2"/>
<circle cx="284.89" cy="973.48" r="4.05" fill="#4c72b0" fill-opacity="0.8" stroke="#4c72b0" stroke-opacity="0.9" stroke-width="1.2"/>
<circle cx="250.65" cy="977.06" r="4.05" fill="#4c72b0" fill-opacity="0.8" stroke="#4c72b0" stroke-opacity="0.9" stroke-width="1.2"/>
<circle cx="281.3" cy="977.06" r="4.05" fill="#4c72b0" fill-opacity="0.8" stroke="#4c72b0" stroke-opacity="0.9" stroke-width="1.2"/>
<circle cx="213.15" cy="984.24" r="4.05" fill="#4c72b0" fill-opacity="0.8" stroke="#4c72b0" stroke-opacity="0.9" stroke-width="1.2"/>
<circle cx="223.59" cy="984.24" r="4.05" fill="#4c72b0" fill-opacity="0.8" stroke="#4c72b0" stroke-opacity="0.9" stroke-width="1.2"/>
<circle cx="274.78" cy="984.24" r="4.05" fill="#4c72b0" fill-opacity="0.8" stroke="#4c72b0" stroke-opacity="0.9" stroke-width="1.2"/>
<circle cx="274.78" cy="984.24" r="4.05" fill="#4c72b0" fill-opacity="0.8" stroke="#4c72b0" stroke-opacity="0.9" stroke-width="1.2"/>
<circle cx="203.04" cy="991.41" r="4.05" fill="#4c72b0" fill-opacity="0.8" stroke="#4c72b0" stroke-opacity="0.9" stroke-width="1.2"/>
<circle cx="220" cy="995" r="4.05" fill="#4c72b0" fill-opacity="0.8" stroke="#4c72b0" stroke-opacity="0.9" stroke-width="1.2"/>
<circle cx="226.85" cy="991.41" r="4.05" fill="#4c72b0" fill-opacity="0.8" stroke="#4c72b0" stroke-opacity="0.9" stroke-width="1.2"/>
<circle cx="247.39" cy="991.41" r="4.05" fill="#4c72b0" fill-opacity="0.8" stroke="#4c72b0" stroke-opacity="0.9" stroke-width="1.2"/>
<circle cx="244.13" cy="995" r="4.05" fill="#4c72b0" fill-opacity="0.8" stroke="#4c72b0" stroke-opacity="0.9" stroke-width="1.2"/>
<circle cx="264.35" cy="991.41" r="4.05" fill="#4c72b0" fill-opacity="0.8" stroke="#4c72b0" stroke-opacity="0.9" stroke-width="1.2"/>
<circle cx="264.35" cy="995" r="4.05" fill="#4c72b0" fill-opacity="0.8" stroke="#4c72b0" stroke-opacity="0.9" stroke-width="1.2"/>
<circle cx="209.56" cy="998.58" r="4.05" fill="#4c72b0" fill-opacity="0.8" stroke="#4c72b0" stroke-opacity="0.9" stroke-width="1.2"/>
<circle cx="295.32" cy="998.58" r="4.05" fill="#4c72b0" fill-opacity="0.8" stroke="#4c72b0" stroke-opacity="0.9" stroke-width="1.2"/>
<circle cx="223.59" cy="1002.17" r="4.05" fill="#4c72b0" fill-opacity="0.8" stroke="#4c72b0" stroke-opacity="0.9" stroke-width="1.2"/>
<circle cx="254.24" cy="1002.17" r="4.05" fill="#4c72b0" fill-opacity="0.8" stroke="#4c72b0" stroke-opacity="0.9" stroke-width="1.2"/>
<circle cx="216.74" cy="1009.02" r="4.05" fill="#4c72b0" fill-opacity="0.8" stroke="#4c72b0" stroke-opacity="0.9" stroke-width="1.2"/>
<circle cx="230.11" cy="1012.61" r="4.05" fill="#4c72b0" fill-opacity="0.8" stroke="#4c72b0" stroke-opacity="0.9" stroke-width="1.2"/>
<circle cx="247.39" cy="1012.61" r="4.05" fill="#4c72b0" fill-opacity="0.8" stroke="#4c72b0" stroke-opacity="0.9" stroke-width="1.2"/>
<circle cx="220" cy="1016.19" r="4.05" fill="#4c72b0" fill-opacity="0.8" stroke="#4c72b0" stroke-opacity="0.9" stroke-width="1.2"/>
<circle cx="244.13" cy="1016.19" r="4.05" fill="#4c72b0" fill-opacity="0.8" stroke="#4c72b0" stroke-opacity="0.9" stroke-width="1.2"/>
<circle cx="223.59" cy="1037.71" r="4.05" fill="#4c72b0" fill-opacity="0.8" stroke="#4c72b0" stroke-opacity="0.9" stroke-width="1.2"/>
<line x1="172.4" y1="1024.9" x2="513.8" y2="760.2" stroke="#4c72b0" stroke-width="3"/>
</g>
<line x1="172.4" y1="733.6" x2="172.4" y2="1091.4" stroke="#c6c6c6" stroke-width="1.4"/>
<line x1="171.8" y1="1090.8" x2="513.8" y2="1090.8" stroke="#c6c6c6" stroke-width="1.4"/>
<line x1="172.4" y1="660.3" x2="172.4" y2="721.7" stroke="#c9c9c9" stroke-width="1.3"/>
<line x1="257.75" y1="660.3" x2="257.75" y2="721.7" stroke="#c9c9c9" stroke-width="1.3"/>
<line x1="343.1" y1="660.3" x2="343.1" y2="721.7" stroke="#c9c9c9" stroke-width="1.3"/>
<line x1="428.45" y1="660.3" x2="428.45" y2="721.7" stroke="#c9c9c9" stroke-width="1.3"/>
<line x1="513.8" y1="660.3" x2="513.8" y2="721.7" stroke="#c9c9c9" stroke-width="1.3"/>
<rect x="203.4" y="676.5" width="30.7" height="45.2" fill="#4c72b0" fill-opacity="0.4" stroke="#fff" stroke-opacity="0.75" stroke-width="1"/>
<rect x="234.1" y="663.8" width="31.6" height="57.9" fill="#4c72b0" fill-opacity="0.4" stroke="#fff" stroke-opacity="0.75" stroke-width="1"/>
<rect x="265.7" y="684.2" width="31.1" height="37.5" fill="#4c72b0" fill-opacity="0.4" stroke="#fff" stroke-opacity="0.75" stroke-width="1"/>
<rect x="296.8" y="668.9" width="31.4" height="52.8" fill="#4c72b0" fill-opacity="0.4" stroke="#fff" stroke-opacity="0.75" stroke-width="1"/>
<rect x="328.2" y="707" width="31.3" height="14.7" fill="#4c72b0" fill-opacity="0.4" stroke="#fff" stroke-opacity="0.75" stroke-width="1"/>
<rect x="359.5" y="684.2" width="31.1" height="37.5" fill="#4c72b0" fill-opacity="0.4" stroke="#fff" stroke-opacity="0.75" stroke-width="1"/>
<path d="M172.1,719.1 C173.65,718.55 178.02,717.43 181.4,715.8 C184.78,714.17 188.73,711.95 192.4,709.3 C196.07,706.65 199.75,703.1 203.4,699.9 C207.05,696.7 210.65,693.2 214.3,690.1 C217.95,687 221.63,683.87 225.3,681.3 C228.97,678.73 232.65,676.48 236.3,674.7 C239.95,672.92 243.92,671.47 247.2,670.6 C250.48,669.73 253.25,669.55 256,669.5 C258.75,669.45 260.6,669.7 263.7,670.3 C266.8,670.9 270.95,672.18 274.6,673.1 C278.25,674.02 281.93,674.98 285.6,675.8 C289.27,676.62 292.95,677.27 296.6,678 C300.25,678.73 303.85,679.18 307.5,680.2 C311.15,681.22 314.85,682.82 318.5,684.1 C322.15,685.38 325.82,686.77 329.4,687.9 C332.98,689.03 336.4,690.02 340,690.9 C343.6,691.78 347.33,692.57 351,693.2 C354.67,693.83 358.67,694.15 362,694.7 C365.33,695.25 368.18,695.72 371,696.5 C373.82,697.28 375.77,698 378.9,699.4 C382.03,700.8 386.15,702.98 389.8,704.9 C393.45,706.82 397.15,709.08 400.8,710.9 C404.45,712.72 408.05,714.37 411.7,715.8 C415.35,717.23 419.03,718.67 422.7,719.5 C426.37,720.33 430.05,720.52 433.7,720.8 C437.35,721.08 440.77,721.1 444.6,721.2 C448.43,721.3 454.68,721.37 456.7,721.4" fill="none" stroke="#4c72b0" stroke-width="2.3"/>
<line x1="171.8" y1="721.7" x2="514.4" y2="721.7" stroke="#c9c9c9" stroke-width="1.5"/>
<line x1="525.7" y1="1090.8" x2="584.6" y2="1090.8" stroke="#c9c9c9" stroke-width="1.3"/>
<line x1="525.7" y1="1019.46" x2="584.6" y2="1019.46" stroke="#c9c9c9" stroke-width="1.3"/>
<line x1="525.7" y1="948.12" x2="584.6" y2="948.12" stroke="#c9c9c9" stroke-width="1.3"/>
<line x1="525.7" y1="876.78" x2="584.6" y2="876.78" stroke="#c9c9c9" stroke-width="1.3"/>
<line x1="525.7" y1="805.44" x2="584.6" y2="805.44" stroke="#c9c9c9" stroke-width="1.3"/>
<line x1="525.7" y1="734.1" x2="584.6" y2="734.1" stroke="#c9c9c9" stroke-width="1.3"/>
<rect x="525.7" y="817.2" width="8.3" height="31" fill="#4c72b0" fill-opacity="0.4" stroke="#fff" stroke-opacity="0.75" stroke-width="1"/>
<rect x="525.7" y="848.2" width="27.9" height="31.5" fill="#4c72b0" fill-opacity="0.4" stroke="#fff" stroke-opacity="0.75" stroke-width="1"/>
<rect x="525.7" y="879.7" width="36.4" height="31.5" fill="#4c72b0" fill-opacity="0.4" stroke="#fff" stroke-opacity="0.75" stroke-width="1"/>
<rect x="525.7" y="911.2" width="32" height="31.8" fill="#4c72b0" fill-opacity="0.4" stroke="#fff" stroke-opacity="0.75" stroke-width="1"/>
<rect x="525.7" y="943" width="56" height="31.9" fill="#4c72b0" fill-opacity="0.4" stroke="#fff" stroke-opacity="0.75" stroke-width="1"/>
<rect x="525.7" y="974.9" width="36.4" height="31.4" fill="#4c72b0" fill-opacity="0.4" stroke="#fff" stroke-opacity="0.75" stroke-width="1"/>
<rect x="525.7" y="1006.3" width="12.7" height="31.5" fill="#4c72b0" fill-opacity="0.4" stroke="#fff" stroke-opacity="0.75" stroke-width="1"/>
<path d="M526.2,752.7 C526.3,758.95 526.27,780.68 526.8,790.2 C527.33,799.72 528.15,803.82 529.4,809.8 C530.65,815.78 532.4,820.67 534.3,826.1 C536.2,831.53 538.63,837.5 540.8,842.4 C542.97,847.3 545.23,851.15 547.3,855.5 C549.37,859.85 551.57,864.7 553.2,868.5 C554.83,872.3 556.18,873.95 557.1,878.3 C558.02,882.65 558.15,889.17 558.7,894.6 C559.25,900.03 559.3,906 560.4,910.9 C561.5,915.8 563.4,919.1 565.3,924 C567.2,928.9 570.45,935.42 571.8,940.3 C573.15,945.18 573.68,948.95 573.4,953.3 C573.12,957.65 572.27,960.97 570.1,966.4 C567.93,971.83 564.2,979.38 560.4,985.9 C556.6,992.42 551.38,999.52 547.3,1005.5 C543.22,1011.48 538.88,1016.37 535.9,1021.8 C532.92,1027.23 530.92,1032.12 529.4,1038.1 C527.88,1044.08 527.33,1049.55 526.8,1057.7 C526.27,1065.85 526.3,1082.12 526.2,1087" fill="none" stroke="#4c72b0" stroke-width="2.3"/>
<line x1="525.7" y1="733.5" x2="525.7" y2="1091.4" stroke="#c9c9c9" stroke-width="1.5"/>
<text transform="translate(144.8,1100.26) scale(1.0300,1)" font-size="25.4" font-weight="normal" fill="#000">0</text>
<text transform="translate(130.41,1028.92) scale(1.0300,1)" font-size="25.4" font-weight="normal" fill="#000">20</text>
<text transform="translate(130.41,957.58) scale(1.0300,1)" font-size="25.4" font-weight="normal" fill="#000">40</text>
<text transform="translate(130.41,886.24) scale(1.0300,1)" font-size="25.4" font-weight="normal" fill="#000">60</text>
<text transform="translate(130.41,814.9) scale(1.0300,1)" font-size="25.4" font-weight="normal" fill="#000">80</text>
<text transform="translate(115.76,743.56) scale(1.0300,1)" font-size="25.4" font-weight="normal" fill="#000">100</text>
<text transform="translate(165.07,1121.85) scale(1.0300,1)" font-size="25.4" font-weight="normal" fill="#000">0</text>
<text transform="translate(243.1,1121.85) scale(1.0300,1)" font-size="25.4" font-weight="normal" fill="#000">25</text>
<text transform="translate(328.58,1121.85) scale(1.0300,1)" font-size="25.4" font-weight="normal" fill="#000">50</text>
<text transform="translate(413.8,1121.85) scale(1.0300,1)" font-size="25.4" font-weight="normal" fill="#000">75</text>
<text transform="translate(491.43,1121.85) scale(1.0300,1)" font-size="25.4" font-weight="normal" fill="#000">100</text>
<text transform="translate(237.09,1151.3) scale(1.0318,1)" font-size="25.53" font-weight="normal" fill="#000" stroke="#000" stroke-width="0.6">PVS count from T2</text>
<text transform="translate(106.2,1030.08) rotate(-90) scale(0.9468,1)" font-size="27.49" font-weight="normal" stroke="#000" stroke-width="0.6">PVS count from EPC</text>
<line x1="1108.64" y1="173.8" x2="1108.64" y2="530.5" stroke="#e9e9e9" stroke-width="1.6"/>
<line x1="1250.08" y1="173.8" x2="1250.08" y2="530.5" stroke="#e9e9e9" stroke-width="1.6"/>
<line x1="967.2" y1="459.16" x2="1320.8" y2="459.16" stroke="#e9e9e9" stroke-width="1.6"/>
<line x1="967.2" y1="387.82" x2="1320.8" y2="387.82" stroke="#e9e9e9" stroke-width="1.6"/>
<line x1="967.2" y1="316.48" x2="1320.8" y2="316.48" stroke="#e9e9e9" stroke-width="1.6"/>
<line x1="967.2" y1="245.14" x2="1320.8" y2="245.14" stroke="#e9e9e9" stroke-width="1.6"/>
<line x1="967.2" y1="173.8" x2="1320.8" y2="173.8" stroke="#e9e9e9" stroke-width="1.6"/>
<clipPath id="c3"><rect x="967.2" y="173.8" width="353.6" height="356.7"/></clipPath>
<g clip-path="url(#c3)">
<path d="M967.2,393.7 L971.62,392.46 L976.04,391.22 L980.46,389.98 L984.88,388.73 L989.3,387.49 L993.72,386.23 L998.14,384.98 L1002.56,383.72 L1006.98,382.45 L1011.4,381.18 L1015.82,379.9 L1020.24,378.62 L1024.66,377.33 L1029.08,376.02 L1033.5,374.7 L1037.92,373.37 L1042.34,372.02 L1046.76,370.65 L1051.18,369.25 L1055.6,367.82 L1060.02,366.35 L1064.44,364.83 L1068.86,363.26 L1073.28,361.61 L1077.7,359.87 L1082.12,358.04 L1086.54,356.1 L1090.96,354.03 L1095.38,351.84 L1099.8,349.52 L1104.22,347.08 L1108.64,344.55 L1113.06,341.93 L1117.48,339.24 L1121.9,336.5 L1126.32,333.71 L1130.74,330.89 L1135.16,328.03 L1139.58,325.16 L1144,322.26 L1148.42,319.35 L1152.84,316.42 L1157.26,313.48 L1161.68,310.53 L1166.1,307.57 L1170.52,304.61 L1174.94,301.64 L1179.36,298.66 L1183.78,295.68 L1188.2,292.7 L1192.62,289.71 L1197.04,286.72 L1201.46,283.73 L1205.88,280.73 L1210.3,277.73 L1214.72,274.73 L1219.14,271.73 L1223.56,268.73 L1227.98,265.72 L1232.4,262.71 L1236.82,259.7 L1241.24,256.7 L1245.66,253.68 L1250.08,250.67 L1254.5,247.66 L1258.92,244.65 L1263.34,241.63 L1267.76,238.62 L1272.18,235.6 L1276.6,232.59 L1281.02,229.57 L1285.44,226.55 L1289.86,223.54 L1294.28,220.52 L1298.7,217.5 L1303.12,214.48 L1307.54,211.46 L1311.96,208.44 L1316.38,205.42 L1320.8,202.4 L1320.8,296.7 L1316.38,297.95 L1311.96,299.2 L1307.54,300.45 L1303.12,301.7 L1298.7,302.95 L1294.28,304.2 L1289.86,305.45 L1285.44,306.71 L1281.02,307.96 L1276.6,309.21 L1272.18,310.47 L1267.76,311.72 L1263.34,312.98 L1258.92,314.23 L1254.5,315.49 L1250.08,316.75 L1245.66,318.01 L1241.24,319.27 L1236.82,320.53 L1232.4,321.79 L1227.98,323.05 L1223.56,324.32 L1219.14,325.58 L1214.72,326.85 L1210.3,328.12 L1205.88,329.4 L1201.46,330.67 L1197.04,331.95 L1192.62,333.23 L1188.2,334.51 L1183.78,335.8 L1179.36,337.09 L1174.94,338.39 L1170.52,339.69 L1166.1,341 L1161.68,342.32 L1157.26,343.65 L1152.84,344.98 L1148.42,346.33 L1144,347.69 L1139.58,349.07 L1135.16,350.47 L1130.74,351.89 L1126.32,353.34 L1121.9,354.82 L1117.48,356.35 L1113.06,357.94 L1108.64,359.58 L1104.22,361.3 L1099.8,363.11 L1095.38,365.02 L1090.96,367.04 L1086.54,369.17 L1082.12,371.4 L1077.7,373.74 L1073.28,376.16 L1068.86,378.67 L1064.44,381.24 L1060.02,383.87 L1055.6,386.54 L1051.18,389.25 L1046.76,391.99 L1042.34,394.76 L1037.92,397.55 L1033.5,400.36 L1029.08,403.18 L1024.66,406.02 L1020.24,408.87 L1015.82,411.72 L1011.4,414.59 L1006.98,417.46 L1002.56,420.34 L998.14,423.22 L993.72,426.11 L989.3,429 L984.88,431.89 L980.46,434.79 L976.04,437.69 L971.62,440.59 L967.2,443.5Z" fill="#4c72b0" fill-opacity="0.15"/>
<circle cx="1151.07" cy="245.14" r="4.4" fill="#4c72b0" fill-opacity="0.8" stroke="#4c72b0" stroke-opacity="0.9" stroke-width="1.2"/>
<circle cx="1066.21" cy="287.94" r="4.4" fill="#4c72b0" fill-opacity="0.8" stroke="#4c72b0" stroke-opacity="0.9" stroke-width="1.2"/>
<circle cx="1094.5" cy="287.94" r="4.4" fill="#4c72b0" fill-opacity="0.8" stroke="#4c72b0" stroke-opacity="0.9" stroke-width="1.2"/>
<circle cx="1165.22" cy="287.94" r="4.4" fill="#4c72b0" fill-opacity="0.8" stroke="#4c72b0" stroke-opacity="0.9" stroke-width="1.2"/>
<circle cx="1009.63" cy="302.21" r="4.4" fill="#4c72b0" fill-opacity="0.8" stroke="#4c72b0" stroke-opacity="0.9" stroke-width="1.2"/>
<circle cx="1080.35" cy="302.21" r="4.4" fill="#4c72b0" fill-opacity="0.8" stroke="#4c72b0" stroke-opacity="0.9" stroke-width="1.2"/>
<circle cx="1136.93" cy="302.21" r="4.4" fill="#4c72b0" fill-opacity="0.8" stroke="#4c72b0" stroke-opacity="0.9" stroke-width="1.2"/>
<circle cx="1151.07" cy="302.21" r="4.4" fill="#4c72b0" fill-opacity="0.8" stroke="#4c72b0" stroke-opacity="0.9" stroke-width="1.2"/>
<circle cx="1037.92" cy="316.48" r="4.4" fill="#4c72b0" fill-opacity="0.8" stroke="#4c72b0" stroke-opacity="0.9" stroke-width="1.2"/>
<circle cx="1080.35" cy="316.48" r="4.4" fill="#4c72b0" fill-opacity="0.8" stroke="#4c72b0" stroke-opacity="0.9" stroke-width="1.2"/>
<circle cx="1080.35" cy="316.48" r="4.4" fill="#4c72b0" fill-opacity="0.8" stroke="#4c72b0" stroke-opacity="0.9" stroke-width="1.2"/>
<circle cx="1136.93" cy="316.48" r="4.4" fill="#4c72b0" fill-opacity="0.8" stroke="#4c72b0" stroke-opacity="0.9" stroke-width="1.2"/>
<circle cx="1136.93" cy="316.48" r="4.4" fill="#4c72b0" fill-opacity="0.8" stroke="#4c72b0" stroke-opacity="0.9" stroke-width="1.2"/>
<circle cx="1179.36" cy="316.48" r="4.4" fill="#4c72b0" fill-opacity="0.8" stroke="#4c72b0" stroke-opacity="0.9" stroke-width="1.2"/>
<circle cx="1052.06" cy="330.75" r="4.4" fill="#4c72b0" fill-opacity="0.8" stroke="#4c72b0" stroke-opacity="0.9" stroke-width="1.2"/>
<circle cx="1052.06" cy="330.75" r="4.4" fill="#4c72b0" fill-opacity="0.8" stroke="#4c72b0" stroke-opacity="0.9" stroke-width="1.2"/>
<circle cx="1080.35" cy="330.75" r="4.4" fill="#4c72b0" fill-opacity="0.8" stroke="#4c72b0" stroke-opacity="0.9" stroke-width="1.2"/>
<circle cx="1080.35" cy="330.75" r="4.4" fill="#4c72b0" fill-opacity="0.8" stroke="#4c72b0" stroke-opacity="0.9" stroke-width="1.2"/>
<circle cx="1094.5" cy="330.75" r="4.4" fill="#4c72b0" fill-opacity="0.8" stroke="#4c72b0" stroke-opacity="0.9" stroke-width="1.2"/>
<circle cx="1136.93" cy="330.75" r="4.4" fill="#4c72b0" fill-opacity="0.8" stroke="#4c72b0" stroke-opacity="0.9" stroke-width="1.2"/>
<circle cx="1151.07" cy="330.75" r="4.4" fill="#4c72b0" fill-opacity="0.8" stroke="#4c72b0" stroke-opacity="0.9" stroke-width="1.2"/>
<circle cx="1023.78" cy="345.02" r="4.4" fill="#4c72b0" fill-opacity="0.8" stroke="#4c72b0" stroke-opacity="0.9" stroke-width="1.2"/>
<circle cx="1052.06" cy="345.02" r="4.4" fill="#4c72b0" fill-opacity="0.8" stroke="#4c72b0" stroke-opacity="0.9" stroke-width="1.2"/>
<circle cx="1066.21" cy="345.02" r="4.4" fill="#4c72b0" fill-opacity="0.8" stroke="#4c72b0" stroke-opacity="0.9" stroke-width="1.2"/>
<circle cx="1066.21" cy="345.02" r="4.4" fill="#4c72b0" fill-opacity="0.8" stroke="#4c72b0" stroke-opacity="0.9" stroke-width="1.2"/>
<circle cx="1080.35" cy="345.02" r="4.4" fill="#4c72b0" fill-opacity="0.8" stroke="#4c72b0" stroke-opacity="0.9" stroke-width="1.2"/>
<circle cx="1080.35" cy="345.02" r="4.4" fill="#4c72b0" fill-opacity="0.8" stroke="#4c72b0" stroke-opacity="0.9" stroke-width="1.2"/>
<circle cx="1094.5" cy="345.02" r="4.4" fill="#4c72b0" fill-opacity="0.8" stroke="#4c72b0" stroke-opacity="0.9" stroke-width="1.2"/>
<circle cx="1108.64" cy="345.02" r="4.4" fill="#4c72b0" fill-opacity="0.8" stroke="#4c72b0" stroke-opacity="0.9" stroke-width="1.2"/>
<circle cx="1108.64" cy="345.02" r="4.4" fill="#4c72b0" fill-opacity="0.8" stroke="#4c72b0" stroke-opacity="0.9" stroke-width="1.2"/>
<circle cx="1122.78" cy="345.02" r="4.4" fill="#4c72b0" fill-opacity="0.8" stroke="#4c72b0" stroke-opacity="0.9" stroke-width="1.2"/>
<circle cx="1179.36" cy="345.02" r="4.4" fill="#4c72b0" fill-opacity="0.8" stroke="#4c72b0" stroke-opacity="0.9" stroke-width="1.2"/>
<circle cx="1179.36" cy="345.02" r="4.4" fill="#4c72b0" fill-opacity="0.8" stroke="#4c72b0" stroke-opacity="0.9" stroke-width="1.2"/>
<circle cx="1037.92" cy="359.28" r="4.4" fill="#4c72b0" fill-opacity="0.8" stroke="#4c72b0" stroke-opacity="0.9" stroke-width="1.2"/>
<circle cx="1037.92" cy="359.28" r="4.4" fill="#4c72b0" fill-opacity="0.8" stroke="#4c72b0" stroke-opacity="0.9" stroke-width="1.2"/>
<circle cx="1052.06" cy="359.28" r="4.4" fill="#4c72b0" fill-opacity="0.8" stroke="#4c72b0" stroke-opacity="0.9" stroke-width="1.2"/>
<circle cx="1052.06" cy="359.28" r="4.4" fill="#4c72b0" fill-opacity="0.8" stroke="#4c72b0" stroke-opacity="0.9" stroke-width="1.2"/>
<circle cx="1066.21" cy="359.28" r="4.4" fill="#4c72b0" fill-opacity="0.8" stroke="#4c72b0" stroke-opacity="0.9" stroke-width="1.2"/>
<circle cx="1066.21" cy="359.28" r="4.4" fill="#4c72b0" fill-opacity="0.8" stroke="#4c72b0" stroke-opacity="0.9" stroke-width="1.2"/>
<circle cx="1080.35" cy="359.28" r="4.4" fill="#4c72b0" fill-opacity="0.8" stroke="#4c72b0" stroke-opacity="0.9" stroke-width="1.2"/>
<circle cx="1080.35" cy="359.28" r="4.4" fill="#4c72b0" fill-opacity="0.8" stroke="#4c72b0" stroke-opacity="0.9" stroke-width="1.2"/>
<circle cx="1094.5" cy="359.28" r="4.4" fill="#4c72b0" fill-opacity="0.8" stroke="#4c72b0" stroke-opacity="0.9" stroke-width="1.2"/>
<circle cx="1094.5" cy="359.28" r="4.4" fill="#4c72b0" fill-opacity="0.8" stroke="#4c72b0" stroke-opacity="0.9" stroke-width="1.2"/>
<circle cx="1108.64" cy="359.28" r="4.4" fill="#4c72b0" fill-opacity="0.8" stroke="#4c72b0" stroke-opacity="0.9" stroke-width="1.2"/>
<circle cx="1122.78" cy="359.28" r="4.4" fill="#4c72b0" fill-opacity="0.8" stroke="#4c72b0" stroke-opacity="0.9" stroke-width="1.2"/>
<circle cx="1136.93" cy="359.28" r="4.4" fill="#4c72b0" fill-opacity="0.8" stroke="#4c72b0" stroke-opacity="0.9" stroke-width="1.2"/>
<circle cx="1037.92" cy="373.55" r="4.4" fill="#4c72b0" fill-opacity="0.8" stroke="#4c72b0" stroke-opacity="0.9" stroke-width="1.2"/>
<circle cx="1037.92" cy="373.55" r="4.4" fill="#4c72b0" fill-opacity="0.8" stroke="#4c72b0" stroke-opacity="0.9" stroke-width="1.2"/>
<circle cx="1080.35" cy="373.55" r="4.4" fill="#4c72b0" fill-opacity="0.8" stroke="#4c72b0" stroke-opacity="0.9" stroke-width="1.2"/>
<circle cx="1080.35" cy="373.55" r="4.4" fill="#4c72b0" fill-opacity="0.8" stroke="#4c72b0" stroke-opacity="0.9" stroke-width="1.2"/>
<circle cx="1094.5" cy="373.55" r="4.4" fill="#4c72b0" fill-opacity="0.8" stroke="#4c72b0" stroke-opacity="0.9" stroke-width="1.2"/>
<circle cx="1094.5" cy="373.55" r="4.4" fill="#4c72b0" fill-opacity="0.8" stroke="#4c72b0" stroke-opacity="0.9" stroke-width="1.2"/>
<circle cx="1108.64" cy="373.55" r="4.4" fill="#4c72b0" fill-opacity="0.8" stroke="#4c72b0" stroke-opacity="0.9" stroke-width="1.2"/>
<circle cx="1052.06" cy="387.82" r="4.4" fill="#4c72b0" fill-opacity="0.8" stroke="#4c72b0" stroke-opacity="0.9" stroke-width="1.2"/>
<circle cx="1066.21" cy="387.82" r="4.4" fill="#4c72b0" fill-opacity="0.8" stroke="#4c72b0" stroke-opacity="0.9" stroke-width="1.2"/>
<circle cx="1080.35" cy="387.82" r="4.4" fill="#4c72b0" fill-opacity="0.8" stroke="#4c72b0" stroke-opacity="0.9" stroke-width="1.2"/>
<circle cx="1080.35" cy="387.82" r="4.4" fill="#4c72b0" fill-opacity="0.8" stroke="#4c72b0" stroke-opacity="0.9" stroke-width="1.2"/>
<circle cx="1108.64" cy="387.82" r="4.4" fill="#4c72b0" fill-opacity="0.8" stroke="#4c72b0" stroke-opacity="0.9" stroke-width="1.2"/>
<circle cx="1037.92" cy="402.09" r="4.4" fill="#4c72b0" fill-opacity="0.8" stroke="#4c72b0" stroke-opacity="0.9" stroke-width="1.2"/>
<circle cx="1066.21" cy="402.09" r="4.4" fill="#4c72b0" fill-opacity="0.8" stroke="#4c72b0" stroke-opacity="0.9" stroke-width="1.2"/>
<circle cx="1066.21" cy="402.09" r="4.4" fill="#4c72b0" fill-opacity="0.8" stroke="#4c72b0" stroke-opacity="0.9" stroke-width="1.2"/>
<circle cx="1080.35" cy="402.09" r="4.4" fill="#4c72b0" fill-opacity="0.8" stroke="#4c72b0" stroke-opacity="0.9" stroke-width="1.2"/>
<circle cx="1122.78" cy="402.09" r="4.4" fill="#4c72b0" fill-opacity="0.8" stroke="#4c72b0" stroke-opacity="0.9" stroke-width="1.2"/>
<circle cx="1009.63" cy="416.36" r="4.4" fill="#4c72b0" fill-opacity="0.8" stroke="#4c72b0" stroke-opacity="0.9" stroke-width="1.2"/>
<circle cx="1023.78" cy="416.36" r="4.4" fill="#4c72b0" fill-opacity="0.8" stroke="#4c72b0" stroke-opacity="0.9" stroke-width="1.2"/>
<circle cx="1023.78" cy="416.36" r="4.4" fill="#4c72b0" fill-opacity="0.8" stroke="#4c72b0" stroke-opacity="0.9" stroke-width="1.2"/>
<circle cx="1037.92" cy="416.36" r="4.4" fill="#4c72b0" fill-opacity="0.8" stroke="#4c72b0" stroke-opacity="0.9" stroke-width="1.2"/>
<circle cx="1037.92" cy="416.36" r="4.4" fill="#4c72b0" fill-opacity="0.8" stroke="#4c72b0" stroke-opacity="0.9" stroke-width="1.2"/>
<circle cx="1052.06" cy="416.36" r="4.4" fill="#4c72b0" fill-opacity="0.8" stroke="#4c72b0" stroke-opacity="0.9" stroke-width="1.2"/>
<circle cx="1052.06" cy="416.36" r="4.4" fill="#4c72b0" fill-opacity="0.8" stroke="#4c72b0" stroke-opacity="0.9" stroke-width="1.2"/>
<circle cx="1066.21" cy="416.36" r="4.4" fill="#4c72b0" fill-opacity="0.8" stroke="#4c72b0" stroke-opacity="0.9" stroke-width="1.2"/>
<circle cx="1066.21" cy="416.36" r="4.4" fill="#4c72b0" fill-opacity="0.8" stroke="#4c72b0" stroke-opacity="0.9" stroke-width="1.2"/>
<circle cx="1080.35" cy="416.36" r="4.4" fill="#4c72b0" fill-opacity="0.8" stroke="#4c72b0" stroke-opacity="0.9" stroke-width="1.2"/>
<circle cx="1094.5" cy="416.36" r="4.4" fill="#4c72b0" fill-opacity="0.8" stroke="#4c72b0" stroke-opacity="0.9" stroke-width="1.2"/>
<circle cx="1151.07" cy="416.36" r="4.4" fill="#4c72b0" fill-opacity="0.8" stroke="#4c72b0" stroke-opacity="0.9" stroke-width="1.2"/>
<circle cx="1052.06" cy="430.62" r="4.4" fill="#4c72b0" fill-opacity="0.8" stroke="#4c72b0" stroke-opacity="0.9" stroke-width="1.2"/>
<circle cx="1052.06" cy="430.62" r="4.4" fill="#4c72b0" fill-opacity="0.8" stroke="#4c72b0" stroke-opacity="0.9" stroke-width="1.2"/>
<circle cx="1080.35" cy="430.62" r="4.4" fill="#4c72b0" fill-opacity="0.8" stroke="#4c72b0" stroke-opacity="0.9" stroke-width="1.2"/>
<circle cx="1080.35" cy="430.62" r="4.4" fill="#4c72b0" fill-opacity="0.8" stroke="#4c72b0" stroke-opacity="0.9" stroke-width="1.2"/>
<circle cx="981.34" cy="444.89" r="4.4" fill="#4c72b0" fill-opacity="0.8" stroke="#4c72b0" stroke-opacity="0.9" stroke-width="1.2"/>
<line x1="967.2" y1="419.3" x2="1320.8" y2="251.4" stroke="#4c72b0" stroke-width="3"/>
</g>
<line x1="967.2" y1="173.3" x2="967.2" y2="531.1" stroke="#c6c6c6" stroke-width="1.4"/>
<line x1="966.6" y1="530.5" x2="1320.8" y2="530.5" stroke="#c6c6c6" stroke-width="1.4"/>
<line x1="967.2" y1="99.9" x2="967.2" y2="161" stroke="#c9c9c9" stroke-width="1.3"/>
<line x1="1108.64" y1="99.9" x2="1108.64" y2="161" stroke="#c9c9c9" stroke-width="1.3"/>
<line x1="1250.08" y1="99.9" x2="1250.08" y2="161" stroke="#c9c9c9" stroke-width="1.3"/>
<rect x="999.5" y="157.4" width="17.8" height="3.6" fill="#4c72b0" fill-opacity="0.4" stroke="#fff" stroke-opacity="0.75" stroke-width="1"/>
<rect x="1017.3" y="154.9" width="18" height="6.1" fill="#4c72b0" fill-opacity="0.4" stroke="#fff" stroke-opacity="0.75" stroke-width="1"/>
<rect x="1035.3" y="110.1" width="17.9" height="50.9" fill="#4c72b0" fill-opacity="0.4" stroke="#fff" stroke-opacity="0.75" stroke-width="1"/>
<rect x="1053.2" y="129.1" width="18.2" height="31.9" fill="#4c72b0" fill-opacity="0.4" stroke="#fff" stroke-opacity="0.75" stroke-width="1"/>
<rect x="1071.4" y="103.3" width="17.9" height="57.7" fill="#4c72b0" fill-opacity="0.4" stroke="#fff" stroke-opacity="0.75" stroke-width="1"/>
<rect x="1089.3" y="142.9" width="18" height="18.1" fill="#4c72b0" fill-opacity="0.4" stroke="#fff" stroke-opacity="0.75" stroke-width="1"/>
<rect x="1107.3" y="140.9" width="18.1" height="20.1" fill="#4c72b0" fill-opacity="0.4" stroke="#fff" stroke-opacity="0.75" stroke-width="1"/>
<rect x="1125.4" y="148.1" width="18" height="12.9" fill="#4c72b0" fill-opacity="0.4" stroke="#fff" stroke-opacity="0.75" stroke-width="1"/>
<rect x="1143.4" y="152.4" width="18" height="8.6" fill="#4c72b0" fill-opacity="0.4" stroke="#fff" stroke-opacity="0.75" stroke-width="1"/>
<rect x="1161.4" y="152.1" width="17.8" height="8.9" fill="#4c72b0" fill-opacity="0.4" stroke="#fff" stroke-opacity="0.75" stroke-width="1"/>
<path d="M967.3,160.3 C969.73,160.2 977.03,159.98 981.9,159.7 C986.77,159.42 992.12,159.27 996.5,158.6 C1000.88,157.93 1004.53,157.05 1008.2,155.7 C1011.87,154.35 1015.08,152.58 1018.5,150.5 C1021.92,148.42 1025.3,145.75 1028.7,143.2 C1032.1,140.65 1035.25,137.87 1038.9,135.2 C1042.55,132.53 1046.7,130 1050.6,127.2 C1054.5,124.4 1058.88,120.9 1062.3,118.4 C1065.72,115.9 1068.67,113.47 1071.1,112.2 C1073.53,110.93 1074.95,110.75 1076.9,110.8 C1078.85,110.85 1080.85,111.23 1082.8,112.5 C1084.75,113.77 1086.42,115.95 1088.6,118.4 C1090.78,120.85 1093.47,124.28 1095.9,127.2 C1098.33,130.12 1100.77,133.35 1103.2,135.9 C1105.63,138.45 1108.05,140.78 1110.5,142.5 C1112.95,144.22 1115.45,145.35 1117.9,146.2 C1120.35,147.05 1122.28,147.37 1125.2,147.6 C1128.12,147.83 1132.23,147.4 1135.4,147.6 C1138.57,147.8 1141.28,148.18 1144.2,148.8 C1147.12,149.42 1149.98,150.52 1152.9,151.3 C1155.82,152.08 1158.53,152.85 1161.7,153.5 C1164.87,154.15 1168.52,154.6 1171.9,155.2 C1175.28,155.8 1178.85,156.47 1182,157.1 C1185.15,157.73 1187.85,158.48 1190.8,159 C1193.75,159.52 1195.67,159.9 1199.7,160.2 C1203.73,160.5 1208.28,160.67 1215,160.8 C1221.72,160.93 1235.83,160.97 1240,161" fill="none" stroke="#4c72b0" stroke-width="2.3"/>
<line x1="966.6" y1="161" x2="1321.4" y2="161" stroke="#c9c9c9" stroke-width="1.5"/>
<line x1="1332.6" y1="530.5" x2="1393.8" y2="530.5" stroke="#c9c9c9" stroke-width="1.3"/>
<line x1="1332.6" y1="459.16" x2="1393.8" y2="459.16" stroke="#c9c9c9" stroke-width="1.3"/>
<line x1="1332.6" y1="387.82" x2="1393.8" y2="387.82" stroke="#c9c9c9" stroke-width="1.3"/>
<line x1="1332.6" y1="316.48" x2="1393.8" y2="316.48" stroke="#c9c9c9" stroke-width="1.3"/>
<line x1="1332.6" y1="245.14" x2="1393.8" y2="245.14" stroke="#c9c9c9" stroke-width="1.3"/>
<line x1="1332.6" y1="173.8" x2="1393.8" y2="173.8" stroke="#c9c9c9" stroke-width="1.3"/>
<rect x="1332.6" y="267.8" width="6.4" height="22" fill="#4c72b0" fill-opacity="0.4" stroke="#fff" stroke-opacity="0.75" stroke-width="1"/>
<rect x="1332.6" y="289.8" width="8" height="22.3" fill="#4c72b0" fill-opacity="0.4" stroke="#fff" stroke-opacity="0.75" stroke-width="1"/>
<rect x="1332.6" y="312.1" width="31" height="22.3" fill="#4c72b0" fill-opacity="0.4" stroke="#fff" stroke-opacity="0.75" stroke-width="1"/>
<rect x="1332.6" y="334.4" width="28.6" height="22.2" fill="#4c72b0" fill-opacity="0.4" stroke="#fff" stroke-opacity="0.75" stroke-width="1"/>
<rect x="1332.6" y="356.6" width="57.8" height="22.3" fill="#4c72b0" fill-opacity="0.4" stroke="#fff" stroke-opacity="0.75" stroke-width="1"/>
<rect x="1332.6" y="378.9" width="12.1" height="22.2" fill="#4c72b0" fill-opacity="0.4" stroke="#fff" stroke-opacity="0.75" stroke-width="1"/>
<rect x="1332.6" y="401.1" width="41.1" height="22.3" fill="#4c72b0" fill-opacity="0.4" stroke="#fff" stroke-opacity="0.75" stroke-width="1"/>
<rect x="1332.6" y="423.4" width="14.2" height="22.2" fill="#4c72b0" fill-opacity="0.4" stroke="#fff" stroke-opacity="0.75" stroke-width="1"/>
<path d="M1332.9,192.7 C1333.05,198.97 1333.58,219.97 1333.8,230.3 C1334.02,240.63 1333.8,248.18 1334.2,254.7 C1334.6,261.22 1335.05,264.23 1336.2,269.4 C1337.35,274.57 1339.2,280.53 1341.1,285.7 C1343,290.87 1345.15,295.23 1347.6,300.4 C1350.05,305.57 1353.08,311.8 1355.8,316.7 C1358.52,321.6 1361.45,325.72 1363.9,329.8 C1366.35,333.88 1368.87,337.4 1370.5,341.2 C1372.13,345 1373.32,349.13 1373.7,352.6 C1374.08,356.07 1373.92,358.77 1372.8,362 C1371.68,365.23 1368.88,368.83 1367,372 C1365.12,375.17 1362.85,377.83 1361.5,381 C1360.15,384.17 1359.32,387.5 1358.9,391 C1358.48,394.5 1359.03,398.17 1359,402 C1358.97,405.83 1359.5,409.37 1358.7,414 C1357.9,418.63 1356.32,425.27 1354.2,429.8 C1352.08,434.33 1348.45,437.93 1346,441.2 C1343.55,444.47 1341.27,446.4 1339.5,449.4 C1337.73,452.4 1336.35,456.22 1335.4,459.2 C1334.45,462.18 1334.22,461.05 1333.8,467.3 C1333.38,473.55 1333.05,491.8 1332.9,496.7" fill="none" stroke="#4c72b0" stroke-width="2.3"/>
<line x1="1332.6" y1="173.2" x2="1332.6" y2="531.1" stroke="#c9c9c9" stroke-width="1.5"/>
<text transform="translate(940.4,539.96) scale(1.0300,1)" font-size="25.4" font-weight="normal" fill="#000">0</text>
<text transform="translate(940.66,468.5) scale(1.0300,1)" font-size="25.4" font-weight="normal" fill="#000">5</text>
<text transform="translate(926.01,397.28) scale(1.0300,1)" font-size="25.4" font-weight="normal" fill="#000">10</text>
<text transform="translate(926.01,325.82) scale(1.0300,1)" font-size="25.4" font-weight="normal" fill="#000">15</text>
<text transform="translate(926.01,254.6) scale(1.0300,1)" font-size="25.4" font-weight="normal" fill="#000">20</text>
<text transform="translate(926.01,183.26) scale(1.0300,1)" font-size="25.4" font-weight="normal" fill="#000">25</text>
<text transform="translate(959.87,561.55) scale(1.0300,1)" font-size="25.4" font-weight="normal" fill="#000">0</text>
<text transform="translate(1093.6,561.55) scale(1.0300,1)" font-size="25.4" font-weight="normal" fill="#000">10</text>
<text transform="translate(1235.43,561.55) scale(1.0300,1)" font-size="25.4" font-weight="normal" fill="#000">20</text>
<text transform="translate(1042.89,596.1) scale(1.0337,1)" font-size="25.53" font-weight="normal" fill="#000" stroke="#000" stroke-width="0.6">PVS count from T2</text>
<text transform="translate(912.3,477.49) rotate(-90) scale(1.0384,1)" font-size="25.11" font-weight="normal" stroke="#000" stroke-width="0.6">PVS count from EPC</text>
<line x1="1112.18" y1="733.2" x2="1112.18" y2="1090.2" stroke="#e9e9e9" stroke-width="1.6"/>
<line x1="1253.66" y1="733.2" x2="1253.66" y2="1090.2" stroke="#e9e9e9" stroke-width="1.6"/>
<line x1="970.7" y1="1018.8" x2="1324.4" y2="1018.8" stroke="#e9e9e9" stroke-width="1.6"/>
<line x1="970.7" y1="947.4" x2="1324.4" y2="947.4" stroke="#e9e9e9" stroke-width="1.6"/>
<line x1="970.7" y1="876" x2="1324.4" y2="876" stroke="#e9e9e9" stroke-width="1.6"/>
<line x1="970.7" y1="804.6" x2="1324.4" y2="804.6" stroke="#e9e9e9" stroke-width="1.6"/>
<line x1="970.7" y1="733.2" x2="1324.4" y2="733.2" stroke="#e9e9e9" stroke-width="1.6"/>
<clipPath id="c4"><rect x="970.7" y="733.2" width="353.7" height="357"/></clipPath>
<g clip-path="url(#c4)">
<path d="M970.7,968.1 L975.12,966.81 L979.54,965.51 L983.96,964.2 L988.38,962.9 L992.81,961.59 L997.23,960.27 L1001.65,958.94 L1006.07,957.61 L1010.49,956.27 L1014.91,954.92 L1019.33,953.56 L1023.76,952.19 L1028.18,950.8 L1032.6,949.4 L1037.02,947.98 L1041.44,946.54 L1045.86,945.07 L1050.28,943.57 L1054.7,942.04 L1059.12,940.48 L1063.55,938.86 L1067.97,937.2 L1072.39,935.49 L1076.81,933.72 L1081.23,931.88 L1085.65,929.98 L1090.07,927.99 L1094.5,925.9 L1098.92,923.72 L1103.34,921.45 L1107.76,919.11 L1112.18,916.7 L1116.6,914.24 L1121.02,911.74 L1125.44,909.2 L1129.87,906.63 L1134.29,904.03 L1138.71,901.41 L1143.13,898.78 L1147.55,896.13 L1151.97,893.46 L1156.39,890.78 L1160.81,888.1 L1165.24,885.4 L1169.66,882.7 L1174.08,879.99 L1178.5,877.28 L1182.92,874.56 L1187.34,871.83 L1191.76,869.11 L1196.18,866.38 L1200.61,863.64 L1205.03,860.91 L1209.45,858.17 L1213.87,855.42 L1218.29,852.68 L1222.71,849.94 L1227.13,847.19 L1231.55,844.44 L1235.98,841.69 L1240.4,838.94 L1244.82,836.18 L1249.24,833.43 L1253.66,830.68 L1258.08,827.92 L1262.5,825.16 L1266.92,822.41 L1271.35,819.65 L1275.77,816.89 L1280.19,814.13 L1284.61,811.37 L1289.03,808.61 L1293.45,805.84 L1297.87,803.08 L1302.29,800.32 L1306.72,797.56 L1311.14,794.79 L1315.56,792.03 L1319.98,789.26 L1324.4,786.5 L1324.4,880.8 L1319.98,881.86 L1315.56,882.92 L1311.14,883.99 L1306.72,885.05 L1302.29,886.11 L1297.87,887.18 L1293.45,888.24 L1289.03,889.31 L1284.61,890.37 L1280.19,891.44 L1275.77,892.51 L1271.35,893.57 L1266.92,894.64 L1262.5,895.71 L1258.08,896.78 L1253.66,897.85 L1249.24,898.92 L1244.82,899.99 L1240.4,901.07 L1235.98,902.14 L1231.55,903.22 L1227.13,904.3 L1222.71,905.38 L1218.29,906.46 L1213.87,907.54 L1209.45,908.62 L1205.03,909.71 L1200.61,910.8 L1196.18,911.89 L1191.76,912.99 L1187.34,914.09 L1182.92,915.19 L1178.5,916.3 L1174.08,917.41 L1169.66,918.53 L1165.24,919.65 L1160.81,920.78 L1156.39,921.92 L1151.97,923.07 L1147.55,924.23 L1143.13,925.4 L1138.71,926.59 L1134.29,927.79 L1129.87,929.02 L1125.44,930.28 L1121.02,931.56 L1116.6,932.89 L1112.18,934.25 L1107.76,935.68 L1103.34,937.17 L1098.92,938.73 L1094.5,940.38 L1090.07,942.13 L1085.65,943.98 L1081.23,945.93 L1076.81,947.96 L1072.39,950.06 L1067.97,952.23 L1063.55,954.45 L1059.12,956.73 L1054.7,959.06 L1050.28,961.43 L1045.86,963.84 L1041.44,966.28 L1037.02,968.74 L1032.6,971.22 L1028.18,973.73 L1023.76,976.25 L1019.33,978.78 L1014.91,981.33 L1010.49,983.88 L1006.07,986.45 L1001.65,989.02 L997.23,991.6 L992.81,994.19 L988.38,996.78 L983.96,999.38 L979.54,1001.98 L975.12,1004.59 L970.7,1007.2Z" fill="#4c72b0" fill-opacity="0.15"/>
<circle cx="1112.18" cy="833.16" r="4.4" fill="#4c72b0" fill-opacity="0.8" stroke="#4c72b0" stroke-opacity="0.9" stroke-width="1.2"/>
<circle cx="1126.33" cy="847.44" r="4.4" fill="#4c72b0" fill-opacity="0.8" stroke="#4c72b0" stroke-opacity="0.9" stroke-width="1.2"/>
<circle cx="1112.18" cy="861.72" r="4.4" fill="#4c72b0" fill-opacity="0.8" stroke="#4c72b0" stroke-opacity="0.9" stroke-width="1.2"/>
<circle cx="1069.74" cy="876" r="4.4" fill="#4c72b0" fill-opacity="0.8" stroke="#4c72b0" stroke-opacity="0.9" stroke-width="1.2"/>
<circle cx="1154.62" cy="876" r="4.4" fill="#4c72b0" fill-opacity="0.8" stroke="#4c72b0" stroke-opacity="0.9" stroke-width="1.2"/>
<circle cx="1055.59" cy="890.28" r="4.4" fill="#4c72b0" fill-opacity="0.8" stroke="#4c72b0" stroke-opacity="0.9" stroke-width="1.2"/>
<circle cx="1126.33" cy="890.28" r="4.4" fill="#4c72b0" fill-opacity="0.8" stroke="#4c72b0" stroke-opacity="0.9" stroke-width="1.2"/>
<circle cx="1126.33" cy="890.28" r="4.4" fill="#4c72b0" fill-opacity="0.8" stroke="#4c72b0" stroke-opacity="0.9" stroke-width="1.2"/>
<circle cx="1013.14" cy="904.56" r="4.4" fill="#4c72b0" fill-opacity="0.8" stroke="#4c72b0" stroke-opacity="0.9" stroke-width="1.2"/>
<circle cx="1027.29" cy="904.56" r="4.4" fill="#4c72b0" fill-opacity="0.8" stroke="#4c72b0" stroke-opacity="0.9" stroke-width="1.2"/>
<circle cx="1041.44" cy="904.56" r="4.4" fill="#4c72b0" fill-opacity="0.8" stroke="#4c72b0" stroke-opacity="0.9" stroke-width="1.2"/>
<circle cx="1041.44" cy="904.56" r="4.4" fill="#4c72b0" fill-opacity="0.8" stroke="#4c72b0" stroke-opacity="0.9" stroke-width="1.2"/>
<circle cx="1055.59" cy="904.56" r="4.4" fill="#4c72b0" fill-opacity="0.8" stroke="#4c72b0" stroke-opacity="0.9" stroke-width="1.2"/>
<circle cx="1069.74" cy="904.56" r="4.4" fill="#4c72b0" fill-opacity="0.8" stroke="#4c72b0" stroke-opacity="0.9" stroke-width="1.2"/>
<circle cx="1083.88" cy="904.56" r="4.4" fill="#4c72b0" fill-opacity="0.8" stroke="#4c72b0" stroke-opacity="0.9" stroke-width="1.2"/>
<circle cx="1083.88" cy="904.56" r="4.4" fill="#4c72b0" fill-opacity="0.8" stroke="#4c72b0" stroke-opacity="0.9" stroke-width="1.2"/>
<circle cx="1098.03" cy="904.56" r="4.4" fill="#4c72b0" fill-opacity="0.8" stroke="#4c72b0" stroke-opacity="0.9" stroke-width="1.2"/>
<circle cx="1112.18" cy="904.56" r="4.4" fill="#4c72b0" fill-opacity="0.8" stroke="#4c72b0" stroke-opacity="0.9" stroke-width="1.2"/>
<circle cx="1112.18" cy="904.56" r="4.4" fill="#4c72b0" fill-opacity="0.8" stroke="#4c72b0" stroke-opacity="0.9" stroke-width="1.2"/>
<circle cx="1126.33" cy="904.56" r="4.4" fill="#4c72b0" fill-opacity="0.8" stroke="#4c72b0" stroke-opacity="0.9" stroke-width="1.2"/>
<circle cx="1182.92" cy="904.56" r="4.4" fill="#4c72b0" fill-opacity="0.8" stroke="#4c72b0" stroke-opacity="0.9" stroke-width="1.2"/>
<circle cx="1027.29" cy="918.84" r="4.4" fill="#4c72b0" fill-opacity="0.8" stroke="#4c72b0" stroke-opacity="0.9" stroke-width="1.2"/>
<circle cx="1027.29" cy="918.84" r="4.4" fill="#4c72b0" fill-opacity="0.8" stroke="#4c72b0" stroke-opacity="0.9" stroke-width="1.2"/>
<circle cx="1041.44" cy="918.84" r="4.4" fill="#4c72b0" fill-opacity="0.8" stroke="#4c72b0" stroke-opacity="0.9" stroke-width="1.2"/>
<circle cx="1055.59" cy="918.84" r="4.4" fill="#4c72b0" fill-opacity="0.8" stroke="#4c72b0" stroke-opacity="0.9" stroke-width="1.2"/>
<circle cx="1055.59" cy="918.84" r="4.4" fill="#4c72b0" fill-opacity="0.8" stroke="#4c72b0" stroke-opacity="0.9" stroke-width="1.2"/>
<circle cx="1069.74" cy="918.84" r="4.4" fill="#4c72b0" fill-opacity="0.8" stroke="#4c72b0" stroke-opacity="0.9" stroke-width="1.2"/>
<circle cx="1069.74" cy="918.84" r="4.4" fill="#4c72b0" fill-opacity="0.8" stroke="#4c72b0" stroke-opacity="0.9" stroke-width="1.2"/>
<circle cx="1112.18" cy="918.84" r="4.4" fill="#4c72b0" fill-opacity="0.8" stroke="#4c72b0" stroke-opacity="0.9" stroke-width="1.2"/>
<circle cx="1126.33" cy="918.84" r="4.4" fill="#4c72b0" fill-opacity="0.8" stroke="#4c72b0" stroke-opacity="0.9" stroke-width="1.2"/>
<circle cx="1126.33" cy="918.84" r="4.4" fill="#4c72b0" fill-opacity="0.8" stroke="#4c72b0" stroke-opacity="0.9" stroke-width="1.2"/>
<circle cx="1027.29" cy="933.12" r="4.4" fill="#4c72b0" fill-opacity="0.8" stroke="#4c72b0" stroke-opacity="0.9" stroke-width="1.2"/>
<circle cx="1027.29" cy="933.12" r="4.4" fill="#4c72b0" fill-opacity="0.8" stroke="#4c72b0" stroke-opacity="0.9" stroke-width="1.2"/>
<circle cx="1041.44" cy="933.12" r="4.4" fill="#4c72b0" fill-opacity="0.8" stroke="#4c72b0" stroke-opacity="0.9" stroke-width="1.2"/>
<circle cx="1041.44" cy="933.12" r="4.4" fill="#4c72b0" fill-opacity="0.8" stroke="#4c72b0" stroke-opacity="0.9" stroke-width="1.2"/>
<circle cx="1055.59" cy="933.12" r="4.4" fill="#4c72b0" fill-opacity="0.8" stroke="#4c72b0" stroke-opacity="0.9" stroke-width="1.2"/>
<circle cx="1069.74" cy="933.12" r="4.4" fill="#4c72b0" fill-opacity="0.8" stroke="#4c72b0" stroke-opacity="0.9" stroke-width="1.2"/>
<circle cx="1069.74" cy="933.12" r="4.4" fill="#4c72b0" fill-opacity="0.8" stroke="#4c72b0" stroke-opacity="0.9" stroke-width="1.2"/>
<circle cx="1083.88" cy="933.12" r="4.4" fill="#4c72b0" fill-opacity="0.8" stroke="#4c72b0" stroke-opacity="0.9" stroke-width="1.2"/>
<circle cx="1083.88" cy="933.12" r="4.4" fill="#4c72b0" fill-opacity="0.8" stroke="#4c72b0" stroke-opacity="0.9" stroke-width="1.2"/>
<circle cx="1098.03" cy="933.12" r="4.4" fill="#4c72b0" fill-opacity="0.8" stroke="#4c72b0" stroke-opacity="0.9" stroke-width="1.2"/>
<circle cx="1112.18" cy="933.12" r="4.4" fill="#4c72b0" fill-opacity="0.8" stroke="#4c72b0" stroke-opacity="0.9" stroke-width="1.2"/>
<circle cx="1126.33" cy="933.12" r="4.4" fill="#4c72b0" fill-opacity="0.8" stroke="#4c72b0" stroke-opacity="0.9" stroke-width="1.2"/>
<circle cx="1126.33" cy="933.12" r="4.4" fill="#4c72b0" fill-opacity="0.8" stroke="#4c72b0" stroke-opacity="0.9" stroke-width="1.2"/>
<circle cx="1140.48" cy="933.12" r="4.4" fill="#4c72b0" fill-opacity="0.8" stroke="#4c72b0" stroke-opacity="0.9" stroke-width="1.2"/>
<circle cx="1041.44" cy="947.4" r="4.4" fill="#4c72b0" fill-opacity="0.8" stroke="#4c72b0" stroke-opacity="0.9" stroke-width="1.2"/>
<circle cx="1055.59" cy="947.4" r="4.4" fill="#4c72b0" fill-opacity="0.8" stroke="#4c72b0" stroke-opacity="0.9" stroke-width="1.2"/>
<circle cx="1055.59" cy="947.4" r="4.4" fill="#4c72b0" fill-opacity="0.8" stroke="#4c72b0" stroke-opacity="0.9" stroke-width="1.2"/>
<circle cx="1069.74" cy="947.4" r="4.4" fill="#4c72b0" fill-opacity="0.8" stroke="#4c72b0" stroke-opacity="0.9" stroke-width="1.2"/>
<circle cx="1098.03" cy="947.4" r="4.4" fill="#4c72b0" fill-opacity="0.8" stroke="#4c72b0" stroke-opacity="0.9" stroke-width="1.2"/>
<circle cx="1098.03" cy="947.4" r="4.4" fill="#4c72b0" fill-opacity="0.8" stroke="#4c72b0" stroke-opacity="0.9" stroke-width="1.2"/>
<circle cx="1112.18" cy="947.4" r="4.4" fill="#4c72b0" fill-opacity="0.8" stroke="#4c72b0" stroke-opacity="0.9" stroke-width="1.2"/>
<circle cx="1126.33" cy="947.4" r="4.4" fill="#4c72b0" fill-opacity="0.8" stroke="#4c72b0" stroke-opacity="0.9" stroke-width="1.2"/>
<circle cx="1126.33" cy="947.4" r="4.4" fill="#4c72b0" fill-opacity="0.8" stroke="#4c72b0" stroke-opacity="0.9" stroke-width="1.2"/>
<circle cx="1140.48" cy="947.4" r="4.4" fill="#4c72b0" fill-opacity="0.8" stroke="#4c72b0" stroke-opacity="0.9" stroke-width="1.2"/>
<circle cx="1041.44" cy="961.68" r="4.4" fill="#4c72b0" fill-opacity="0.8" stroke="#4c72b0" stroke-opacity="0.9" stroke-width="1.2"/>
<circle cx="1069.74" cy="961.68" r="4.4" fill="#4c72b0" fill-opacity="0.8" stroke="#4c72b0" stroke-opacity="0.9" stroke-width="1.2"/>
<circle cx="1083.88" cy="961.68" r="4.4" fill="#4c72b0" fill-opacity="0.8" stroke="#4c72b0" stroke-opacity="0.9" stroke-width="1.2"/>
<circle cx="1098.03" cy="961.68" r="4.4" fill="#4c72b0" fill-opacity="0.8" stroke="#4c72b0" stroke-opacity="0.9" stroke-width="1.2"/>
<circle cx="1098.03" cy="961.68" r="4.4" fill="#4c72b0" fill-opacity="0.8" stroke="#4c72b0" stroke-opacity="0.9" stroke-width="1.2"/>
<circle cx="1013.14" cy="975.96" r="4.4" fill="#4c72b0" fill-opacity="0.8" stroke="#4c72b0" stroke-opacity="0.9" stroke-width="1.2"/>
<circle cx="1041.44" cy="975.96" r="4.4" fill="#4c72b0" fill-opacity="0.8" stroke="#4c72b0" stroke-opacity="0.9" stroke-width="1.2"/>
<circle cx="1041.44" cy="975.96" r="4.4" fill="#4c72b0" fill-opacity="0.8" stroke="#4c72b0" stroke-opacity="0.9" stroke-width="1.2"/>
<circle cx="1055.59" cy="975.96" r="4.4" fill="#4c72b0" fill-opacity="0.8" stroke="#4c72b0" stroke-opacity="0.9" stroke-width="1.2"/>
<circle cx="1055.59" cy="975.96" r="4.4" fill="#4c72b0" fill-opacity="0.8" stroke="#4c72b0" stroke-opacity="0.9" stroke-width="1.2"/>
<circle cx="1069.74" cy="975.96" r="4.4" fill="#4c72b0" fill-opacity="0.8" stroke="#4c72b0" stroke-opacity="0.9" stroke-width="1.2"/>
<circle cx="1069.74" cy="975.96" r="4.4" fill="#4c72b0" fill-opacity="0.8" stroke="#4c72b0" stroke-opacity="0.9" stroke-width="1.2"/>
<circle cx="1083.88" cy="975.96" r="4.4" fill="#4c72b0" fill-opacity="0.8" stroke="#4c72b0" stroke-opacity="0.9" stroke-width="1.2"/>
<circle cx="1083.88" cy="975.96" r="4.4" fill="#4c72b0" fill-opacity="0.8" stroke="#4c72b0" stroke-opacity="0.9" stroke-width="1.2"/>
<circle cx="1013.14" cy="990.24" r="4.4" fill="#4c72b0" fill-opacity="0.8" stroke="#4c72b0" stroke-opacity="0.9" stroke-width="1.2"/>
<circle cx="1027.29" cy="990.24" r="4.4" fill="#4c72b0" fill-opacity="0.8" stroke="#4c72b0" stroke-opacity="0.9" stroke-width="1.2"/>
<circle cx="1027.29" cy="990.24" r="4.4" fill="#4c72b0" fill-opacity="0.8" stroke="#4c72b0" stroke-opacity="0.9" stroke-width="1.2"/>
<circle cx="1041.44" cy="990.24" r="4.4" fill="#4c72b0" fill-opacity="0.8" stroke="#4c72b0" stroke-opacity="0.9" stroke-width="1.2"/>
<circle cx="1041.44" cy="990.24" r="4.4" fill="#4c72b0" fill-opacity="0.8" stroke="#4c72b0" stroke-opacity="0.9" stroke-width="1.2"/>
<circle cx="1055.59" cy="990.24" r="4.4" fill="#4c72b0" fill-opacity="0.8" stroke="#4c72b0" stroke-opacity="0.9" stroke-width="1.2"/>
<circle cx="1098.03" cy="990.24" r="4.4" fill="#4c72b0" fill-opacity="0.8" stroke="#4c72b0" stroke-opacity="0.9" stroke-width="1.2"/>
<circle cx="984.85" cy="1004.52" r="4.4" fill="#4c72b0" fill-opacity="0.8" stroke="#4c72b0" stroke-opacity="0.9" stroke-width="1.2"/>
<circle cx="1027.29" cy="1004.52" r="4.4" fill="#4c72b0" fill-opacity="0.8" stroke="#4c72b0" stroke-opacity="0.9" stroke-width="1.2"/>
<circle cx="1041.44" cy="1004.52" r="4.4" fill="#4c72b0" fill-opacity="0.8" stroke="#4c72b0" stroke-opacity="0.9" stroke-width="1.2"/>
<circle cx="1069.74" cy="1004.52" r="4.4" fill="#4c72b0" fill-opacity="0.8" stroke="#4c72b0" stroke-opacity="0.9" stroke-width="1.2"/>
<circle cx="1126.33" cy="1004.52" r="4.4" fill="#4c72b0" fill-opacity="0.8" stroke="#4c72b0" stroke-opacity="0.9" stroke-width="1.2"/>
<circle cx="1055.59" cy="1018.8" r="4.4" fill="#4c72b0" fill-opacity="0.8" stroke="#4c72b0" stroke-opacity="0.9" stroke-width="1.2"/>
<circle cx="999" cy="1033.08" r="4.4" fill="#4c72b0" fill-opacity="0.8" stroke="#4c72b0" stroke-opacity="0.9" stroke-width="1.2"/>
<line x1="970.7" y1="987" x2="1324.4" y2="833.1" stroke="#4c72b0" stroke-width="3"/>
</g>
<line x1="970.7" y1="732.7" x2="970.7" y2="1090.8" stroke="#c6c6c6" stroke-width="1.4"/>
<line x1="970.1" y1="1090.2" x2="1324.4" y2="1090.2" stroke="#c6c6c6" stroke-width="1.4"/>
<line x1="970.7" y1="659.8" x2="970.7" y2="720.8" stroke="#c9c9c9" stroke-width="1.3"/>
<line x1="1112.18" y1="659.8" x2="1112.18" y2="720.8" stroke="#c9c9c9" stroke-width="1.3"/>
<line x1="1253.66" y1="659.8" x2="1253.66" y2="720.8" stroke="#c9c9c9" stroke-width="1.3"/>
<rect x="985.6" y="717.1" width="21.5" height="3.7" fill="#4c72b0" fill-opacity="0.4" stroke="#fff" stroke-opacity="0.75" stroke-width="1"/>
<rect x="1007.1" y="690.8" width="22.3" height="30" fill="#4c72b0" fill-opacity="0.4" stroke="#fff" stroke-opacity="0.75" stroke-width="1"/>
<rect x="1029.4" y="688.9" width="21.5" height="31.9" fill="#4c72b0" fill-opacity="0.4" stroke="#fff" stroke-opacity="0.75" stroke-width="1"/>
<rect x="1050.9" y="662.7" width="22.4" height="58.1" fill="#4c72b0" fill-opacity="0.4" stroke="#fff" stroke-opacity="0.75" stroke-width="1"/>
<rect x="1073.3" y="699.9" width="21.5" height="20.9" fill="#4c72b0" fill-opacity="0.4" stroke="#fff" stroke-opacity="0.75" stroke-width="1"/>
<rect x="1094.8" y="690.8" width="21.9" height="30" fill="#4c72b0" fill-opacity="0.4" stroke="#fff" stroke-opacity="0.75" stroke-width="1"/>
<rect x="1116.7" y="695.2" width="21.9" height="25.6" fill="#4c72b0" fill-opacity="0.4" stroke="#fff" stroke-opacity="0.75" stroke-width="1"/>
<rect x="1138.6" y="714.9" width="21.9" height="5.9" fill="#4c72b0" fill-opacity="0.4" stroke="#fff" stroke-opacity="0.75" stroke-width="1"/>
<path d="M971.4,719.3 C973.15,719.05 978.43,718.53 981.9,717.8 C985.37,717.07 989.03,716.12 992.2,714.9 C995.37,713.68 997.98,712.45 1000.9,710.5 C1003.82,708.55 1006.77,705.87 1009.7,703.2 C1012.63,700.53 1015.82,697.05 1018.5,694.5 C1021.18,691.95 1023.37,689.85 1025.8,687.9 C1028.23,685.95 1030.43,684.38 1033.1,682.8 C1035.77,681.22 1038.63,679.45 1041.8,678.4 C1044.97,677.35 1048.68,676.62 1052.1,676.5 C1055.52,676.38 1058.9,676.9 1062.3,677.7 C1065.7,678.5 1069.08,679.85 1072.5,681.3 C1075.92,682.75 1079.63,684.93 1082.8,686.4 C1085.97,687.87 1088.58,689.12 1091.5,690.1 C1094.42,691.08 1097.13,691.77 1100.3,692.3 C1103.47,692.83 1107.58,692.93 1110.5,693.3 C1113.42,693.67 1115.35,693.93 1117.8,694.5 C1120.25,695.07 1122.75,695.62 1125.2,696.7 C1127.65,697.78 1130.07,699.3 1132.5,701 C1134.93,702.7 1137.37,705.07 1139.8,706.9 C1142.23,708.73 1144.42,710.47 1147.1,712 C1149.78,713.53 1152.98,715.08 1155.9,716.1 C1158.82,717.12 1161.2,717.57 1164.6,718.1 C1168,718.63 1172.4,719.03 1176.3,719.3 C1180.2,719.57 1184.1,719.58 1188,719.7 C1191.9,719.82 1192.7,719.87 1199.7,720 C1206.7,720.13 1224.95,720.42 1230,720.5" fill="none" stroke="#4c72b0" stroke-width="2.3"/>
<line x1="970.1" y1="720.8" x2="1325" y2="720.8" stroke="#c9c9c9" stroke-width="1.5"/>
<line x1="1336.5" y1="1090.2" x2="1397.4" y2="1090.2" stroke="#c9c9c9" stroke-width="1.3"/>
<line x1="1336.5" y1="1018.8" x2="1397.4" y2="1018.8" stroke="#c9c9c9" stroke-width="1.3"/>
<line x1="1336.5" y1="947.4" x2="1397.4" y2="947.4" stroke="#c9c9c9" stroke-width="1.3"/>
<line x1="1336.5" y1="876" x2="1397.4" y2="876" stroke="#c9c9c9" stroke-width="1.3"/>
<line x1="1336.5" y1="804.6" x2="1397.4" y2="804.6" stroke="#c9c9c9" stroke-width="1.3"/>
<line x1="1336.5" y1="733.2" x2="1397.4" y2="733.2" stroke="#c9c9c9" stroke-width="1.3"/>
<rect x="1336.5" y="832.7" width="3.9" height="22.4" fill="#4c72b0" fill-opacity="0.4" stroke="#fff" stroke-opacity="0.75" stroke-width="1"/>
<rect x="1336.5" y="855.1" width="7.2" height="22.4" fill="#4c72b0" fill-opacity="0.4" stroke="#fff" stroke-opacity="0.75" stroke-width="1"/>
<rect x="1336.5" y="877.5" width="7.2" height="22.4" fill="#4c72b0" fill-opacity="0.4" stroke="#fff" stroke-opacity="0.75" stroke-width="1"/>
<rect x="1336.5" y="899.9" width="57.7" height="22.4" fill="#4c72b0" fill-opacity="0.4" stroke="#fff" stroke-opacity="0.75" stroke-width="1"/>
<rect x="1336.5" y="922.3" width="40.7" height="22.4" fill="#4c72b0" fill-opacity="0.4" stroke="#fff" stroke-opacity="0.75" stroke-width="1"/>
<rect x="1336.5" y="944.7" width="47.9" height="22.4" fill="#4c72b0" fill-opacity="0.4" stroke="#fff" stroke-opacity="0.75" stroke-width="1"/>
<rect x="1336.5" y="967.1" width="28.5" height="22.4" fill="#4c72b0" fill-opacity="0.4" stroke="#fff" stroke-opacity="0.75" stroke-width="1"/>
<rect x="1336.5" y="989.5" width="35.9" height="22.4" fill="#4c72b0" fill-opacity="0.4" stroke="#fff" stroke-opacity="0.75" stroke-width="1"/>
<rect x="1336.5" y="1011.9" width="4.5" height="22.4" fill="#4c72b0" fill-opacity="0.4" stroke="#fff" stroke-opacity="0.75" stroke-width="1"/>
<path d="M1336.9,783.7 C1337.07,788.05 1337.35,800.55 1337.9,809.8 C1338.45,819.05 1339.27,830.5 1340.2,839.2 C1341.13,847.9 1341.98,856.03 1343.5,862 C1345.02,867.97 1346.7,870.65 1349.3,875 C1351.9,879.35 1355.3,883.47 1359.1,888.1 C1362.9,892.73 1368.3,897.92 1372.1,902.8 C1375.9,907.68 1379.45,912.25 1381.9,917.4 C1384.35,922.55 1386.27,928.8 1386.8,933.7 C1387.33,938.6 1386.18,942.98 1385.1,946.8 C1384.02,950.62 1381.92,953.33 1380.3,956.6 C1378.68,959.87 1376.77,962.87 1375.4,966.4 C1374.03,969.93 1373.18,974.27 1372.1,977.8 C1371.02,981.33 1370.53,984.35 1368.9,987.6 C1367.27,990.85 1365.02,993.77 1362.3,997.3 C1359.58,1000.83 1355.58,1004.98 1352.6,1008.8 C1349.62,1012.62 1346.58,1016.4 1344.4,1020.2 C1342.22,1024 1340.58,1027.53 1339.5,1031.6 C1338.42,1035.67 1338.33,1038.62 1337.9,1044.6 C1337.47,1050.58 1337.12,1061.52 1336.9,1067.5 C1336.68,1073.48 1336.65,1078.33 1336.6,1080.5" fill="none" stroke="#4c72b0" stroke-width="2.3"/>
<line x1="1336.5" y1="732.6" x2="1336.5" y2="1090.8" stroke="#c9c9c9" stroke-width="1.5"/>
<text transform="translate(944,1099.66) scale(1.0300,1)" font-size="25.4" font-weight="normal" fill="#000">0</text>
<text transform="translate(944.26,1028.14) scale(1.0300,1)" font-size="25.4" font-weight="normal" fill="#000">5</text>
<text transform="translate(929.61,956.86) scale(1.0300,1)" font-size="25.4" font-weight="normal" fill="#000">10</text>
<text transform="translate(929.61,885.34) scale(1.0300,1)" font-size="25.4" font-weight="normal" fill="#000">15</text>
<text transform="translate(929.61,814.06) scale(1.0300,1)" font-size="25.4" font-weight="normal" fill="#000">20</text>
<text transform="translate(929.61,742.66) scale(1.0300,1)" font-size="25.4" font-weight="normal" fill="#000">25</text>
<text transform="translate(963.37,1121.05) scale(1.0300,1)" font-size="25.4" font-weight="normal" fill="#000">0</text>
<text transform="translate(1097.14,1121.05) scale(1.0300,1)" font-size="25.4" font-weight="normal" fill="#000">10</text>
<text transform="translate(1239.01,1121.05) scale(1.0300,1)" font-size="25.4" font-weight="normal" fill="#000">20</text>
<text transform="translate(1043.49,1151.9) scale(1.0308,1)" font-size="25.53" font-weight="normal" fill="#000" stroke="#000" stroke-width="0.6">PVS count from T2</text>
<text transform="translate(912.4,1029.49) rotate(-90) scale(0.9952,1)" font-size="26.23" font-weight="normal" stroke="#000" stroke-width="0.6">PVS count from EPC</text>
<rect x="585.6" y="184" width="1.6" height="1.6" fill="#d6d6d6"/>
<rect x="585.8" y="736" width="1.6" height="1.6" fill="#d6d6d6"/>
<rect x="585.6" y="243.1" width="1.6" height="1.6" fill="#d6d6d6"/>
<rect x="585.8" y="795.4" width="1.6" height="1.6" fill="#d6d6d6"/>
<rect x="585.6" y="302.2" width="1.6" height="1.6" fill="#d6d6d6"/>
<rect x="585.8" y="854.8" width="1.6" height="1.6" fill="#d6d6d6"/>
<rect x="585.6" y="361.3" width="1.6" height="1.6" fill="#d6d6d6"/>
<rect x="585.8" y="914.2" width="1.6" height="1.6" fill="#d6d6d6"/>
<rect x="585.6" y="420.4" width="1.6" height="1.6" fill="#d6d6d6"/>
<rect x="585.8" y="973.6" width="1.6" height="1.6" fill="#d6d6d6"/>
<rect x="585.6" y="479.5" width="1.6" height="1.6" fill="#d6d6d6"/>
<rect x="585.8" y="1033" width="1.6" height="1.6" fill="#d6d6d6"/>
<rect x="585.6" y="538.6" width="1.6" height="1.6" fill="#d6d6d6"/>
<rect x="585.8" y="1092.4" width="1.6" height="1.6" fill="#d6d6d6"/>
<line x1="700.5" y1="527.9" x2="810.2" y2="527.9" stroke="#d0d0d0" stroke-width="1.4"/>
<line x1="700.5" y1="432.7" x2="810.2" y2="432.7" stroke="#d0d0d0" stroke-width="1.4"/>
<line x1="700.5" y1="337.5" x2="810.2" y2="337.5" stroke="#d0d0d0" stroke-width="1.4"/>
<line x1="700.5" y1="242.3" x2="810.2" y2="242.3" stroke="#d0d0d0" stroke-width="1.4"/>
<line x1="692.7" y1="242" x2="692.7" y2="528" stroke="#c6c6c6" stroke-width="1.8"/>
<line x1="727.7" y1="540.8" x2="782.8" y2="540.8" stroke="#c6c6c6" stroke-width="1.8"/>
<rect x="705.9" y="364.1" width="43.6" height="163.2" fill="#535353"/>
<rect x="761" y="276.9" width="43.1" height="250.4" fill="#a9a9a9"/>
<line x1="727.7" y1="348.7" x2="727.7" y2="377.1" stroke="#4a4a4a" stroke-width="1.6"/>
<line x1="721.9" y1="348.7" x2="733.5" y2="348.7" stroke="#404040" stroke-width="3.2"/>
<line x1="721.9" y1="377.1" x2="733.5" y2="377.1" stroke="#404040" stroke-width="3.2"/>
<line x1="782.4" y1="256.2" x2="782.4" y2="295.2" stroke="#4a4a4a" stroke-width="1.6"/>
<line x1="776.6" y1="256.2" x2="788.2" y2="256.2" stroke="#404040" stroke-width="3.2"/>
<line x1="776.6" y1="295.2" x2="788.2" y2="295.2" stroke="#404040" stroke-width="3.2"/>
<text transform="translate(665,537.36) scale(1.0300,1)" font-size="25.4" font-weight="normal" fill="#000">0</text>
<text transform="translate(650.61,442.16) scale(1.0300,1)" font-size="25.4" font-weight="normal" fill="#000">20</text>
<text transform="translate(650.61,346.96) scale(1.0300,1)" font-size="25.4" font-weight="normal" fill="#000">40</text>
<text transform="translate(650.61,251.76) scale(1.0300,1)" font-size="25.4" font-weight="normal" fill="#000">60</text>
<text transform="translate(708.8,571.6) scale(0.9633,1)" font-size="25.86" font-weight="normal" fill="#000">T2</text>
<text transform="translate(765.26,571.6) scale(0.9879,1)" font-size="25.86" font-weight="normal" fill="#000">EPC</text>
<text x="756.51" y="247.43" font-size="25.6" font-weight="bold" letter-spacing="3.14" stroke="#000" stroke-width="0.35" stroke-linejoin="round">****</text>
<text transform="translate(636.7,435.57) rotate(-90) scale(1.0074,1)" font-size="25.71" font-weight="normal" stroke="#000" stroke-width="0.6">PVS count</text>
<text transform="translate(654.67,119.8) scale(1.0581,1)" font-size="23.42" font-weight="normal" fill="#000" stroke="#000" stroke-width="0.6">number of PVS</text>
<text transform="translate(698.15,149.3) scale(0.9784,1)" font-size="26.85" font-weight="normal" fill="#000" stroke="#000" stroke-width="0.6">across</text>
<text transform="translate(671.24,179.6) scale(1.0811,1)" font-size="24.52" font-weight="normal" fill="#000" stroke="#000" stroke-width="0.6">all subjects</text>
<line x1="699" y1="1078.6" x2="810.2" y2="1078.6" stroke="#d0d0d0" stroke-width="1.4"/>
<line x1="699" y1="1031" x2="810.2" y2="1031" stroke="#d0d0d0" stroke-width="1.4"/>
<line x1="699" y1="983.4" x2="810.2" y2="983.4" stroke="#d0d0d0" stroke-width="1.4"/>
<line x1="699" y1="935.8" x2="810.2" y2="935.8" stroke="#d0d0d0" stroke-width="1.4"/>
<line x1="699" y1="888.2" x2="810.2" y2="888.2" stroke="#d0d0d0" stroke-width="1.4"/>
<line x1="692.6" y1="794.2" x2="692.6" y2="1079.4" stroke="#c6c6c6" stroke-width="1.8"/>
<line x1="727.7" y1="1093.3" x2="782.5" y2="1093.3" stroke="#c6c6c6" stroke-width="1.8"/>
<rect x="705.1" y="914.4" width="42.9" height="163.6" fill="#535353"/>
<rect x="759.7" y="867.3" width="43.3" height="210.7" fill="#a9a9a9"/>
<line x1="727.2" y1="897.9" x2="727.2" y2="928.5" stroke="#4a4a4a" stroke-width="1.3"/>
<line x1="721.4" y1="897.9" x2="733" y2="897.9" stroke="#404040" stroke-width="2.4"/>
<line x1="721.4" y1="928.5" x2="733" y2="928.5" stroke="#404040" stroke-width="2.4"/>
<line x1="781.4" y1="852.1" x2="781.4" y2="879.8" stroke="#4a4a4a" stroke-width="1.3"/>
<line x1="775.6" y1="852.1" x2="787.2" y2="852.1" stroke="#404040" stroke-width="2.4"/>
<line x1="775.6" y1="879.8" x2="787.2" y2="879.8" stroke="#404040" stroke-width="2.4"/>
<text transform="translate(664.8,1088.06) scale(1.0300,1)" font-size="25.4" font-weight="normal" fill="#000">0</text>
<text transform="translate(650.41,992.86) scale(1.0300,1)" font-size="25.4" font-weight="normal" fill="#000">20</text>
<text transform="translate(650.41,897.66) scale(1.0300,1)" font-size="25.4" font-weight="normal" fill="#000">40</text>
<text transform="translate(650.41,802.46) scale(1.0300,1)" font-size="25.4" font-weight="normal" fill="#000">60</text>
<text transform="translate(708.79,1123.7) scale(0.9809,1)" font-size="25.86" font-weight="normal" fill="#000">T2</text>
<text transform="translate(764.53,1123.7) scale(1.0019,1)" font-size="25.86" font-weight="normal" fill="#000">EPC</text>
<text x="755.91" y="846.33" font-size="25.6" font-weight="bold" letter-spacing="3.14" stroke="#000" stroke-width="0.35" stroke-linejoin="round">****</text>
<text transform="translate(637,987.57) rotate(-90) scale(0.9759,1)" font-size="26.5" font-weight="normal" stroke="#000" stroke-width="0.6">PVS count</text>
<text transform="translate(654.67,688.9) scale(1.0581,1)" font-size="23.42" font-weight="normal" fill="#000" stroke="#000" stroke-width="0.6">number of PVS</text>
<text transform="translate(698.15,718.4) scale(0.9784,1)" font-size="26.85" font-weight="normal" fill="#000" stroke="#000" stroke-width="0.6">across</text>
<text transform="translate(671.24,748.7) scale(1.0811,1)" font-size="24.52" font-weight="normal" fill="#000" stroke="#000" stroke-width="0.6">all subjects</text>
<line x1="1515.7" y1="568.6" x2="1625.4" y2="568.6" stroke="#d0d0d0" stroke-width="1.4"/>
<line x1="1515.7" y1="500.2" x2="1625.4" y2="500.2" stroke="#d0d0d0" stroke-width="1.4"/>
<line x1="1515.7" y1="431.8" x2="1625.4" y2="431.8" stroke="#d0d0d0" stroke-width="1.4"/>
<line x1="1515.7" y1="363.4" x2="1625.4" y2="363.4" stroke="#d0d0d0" stroke-width="1.4"/>
<line x1="1515.7" y1="295" x2="1625.4" y2="295" stroke="#d0d0d0" stroke-width="1.4"/>
<line x1="1515.7" y1="244.5" x2="1515.7" y2="568.6" stroke="#e0e0e0" stroke-width="1.3"/>
<line x1="1625.4" y1="244.5" x2="1625.4" y2="568.6" stroke="#e0e0e0" stroke-width="1.3"/>
<line x1="1515.7" y1="568.6" x2="1625.4" y2="568.6" stroke="#d0d0d0" stroke-width="1.4"/>
<rect x="1521.2" y="350.1" width="43.6" height="217.9" fill="#535353"/>
<rect x="1576.3" y="253.3" width="43.7" height="314.7" fill="#a9a9a9"/>
<line x1="1543.2" y1="335.4" x2="1543.2" y2="364.2" stroke="#4a4a4a" stroke-width="1.6"/>
<line x1="1537.4" y1="335.4" x2="1549" y2="335.4" stroke="#404040" stroke-width="3.2"/>
<line x1="1537.4" y1="364.2" x2="1549" y2="364.2" stroke="#404040" stroke-width="3.2"/>
<line x1="1598.1" y1="237.9" x2="1598.1" y2="268.4" stroke="#4a4a4a" stroke-width="1.6"/>
<line x1="1592.3" y1="237.9" x2="1603.9" y2="237.9" stroke="#404040" stroke-width="3.2"/>
<line x1="1592.3" y1="268.4" x2="1603.9" y2="268.4" stroke="#404040" stroke-width="3.2"/>
<text transform="translate(1470.48,578.06) scale(1.0300,1)" font-size="25.4" font-weight="normal" fill="#000">0.0</text>
<text transform="translate(1470.48,509.66) scale(1.0300,1)" font-size="25.4" font-weight="normal" fill="#000">2.5</text>
<text transform="translate(1470.48,441.26) scale(1.0300,1)" font-size="25.4" font-weight="normal" fill="#000">5.0</text>
<text transform="translate(1470.48,372.74) scale(1.0300,1)" font-size="25.4" font-weight="normal" fill="#000">7.5</text>
<text transform="translate(1455.83,304.46) scale(1.0300,1)" font-size="25.4" font-weight="normal" fill="#000">10.0</text>
<text transform="translate(1515.71,597.2) scale(0.9563,1)" font-size="25.86" font-weight="normal" fill="#000">T2</text>
<text transform="translate(1570.84,597.2) scale(0.9979,1)" font-size="25.86" font-weight="normal" fill="#000">EPC</text>
<text x="1573.26" y="233.83" font-size="25.6" font-weight="bold" letter-spacing="3.14" stroke="#000" stroke-width="0.35" stroke-linejoin="round">****</text>
<text transform="translate(1443.4,461.07) rotate(-90) scale(0.9972,1)" font-size="26" font-weight="normal" stroke="#000" stroke-width="0.6">PVS count</text>
<text transform="translate(1461.27,119.5) scale(1.0581,1)" font-size="23.42" font-weight="normal" fill="#000" stroke="#000" stroke-width="0.6">number of PVS</text>
<text transform="translate(1504.75,149) scale(0.9784,1)" font-size="26.85" font-weight="normal" fill="#000" stroke="#000" stroke-width="0.6">across</text>
<text transform="translate(1477.84,179.3) scale(1.0811,1)" font-size="24.52" font-weight="normal" fill="#000" stroke="#000" stroke-width="0.6">all subjects</text>
<line x1="1513.6" y1="1121.3" x2="1623.4" y2="1121.3" stroke="#d0d0d0" stroke-width="1.4"/>
<line x1="1513.6" y1="1059.74" x2="1623.4" y2="1059.74" stroke="#d0d0d0" stroke-width="1.4"/>
<line x1="1513.6" y1="998.18" x2="1623.4" y2="998.18" stroke="#d0d0d0" stroke-width="1.4"/>
<line x1="1513.6" y1="936.62" x2="1623.4" y2="936.62" stroke="#d0d0d0" stroke-width="1.4"/>
<line x1="1513.6" y1="875.06" x2="1623.4" y2="875.06" stroke="#d0d0d0" stroke-width="1.4"/>
<line x1="1513.6" y1="813.5" x2="1623.4" y2="813.5" stroke="#d0d0d0" stroke-width="1.4"/>
<line x1="1513.6" y1="776.6" x2="1513.6" y2="1121.3" stroke="#e0e0e0" stroke-width="1.3"/>
<line x1="1623.4" y1="776.6" x2="1623.4" y2="1121.3" stroke="#e0e0e0" stroke-width="1.3"/>
<line x1="1513.6" y1="1121.3" x2="1623.4" y2="1121.3" stroke="#d0d0d0" stroke-width="1.4"/>
<rect x="1519.2" y="901.1" width="43.2" height="219.6" fill="#535353"/>
<rect x="1574.2" y="803.4" width="43.7" height="317.3" fill="#a9a9a9"/>
<line x1="1540.9" y1="882.8" x2="1540.9" y2="916.3" stroke="#4a4a4a" stroke-width="1.6"/>
<line x1="1535.1" y1="882.8" x2="1546.7" y2="882.8" stroke="#404040" stroke-width="3.2"/>
<line x1="1535.1" y1="916.3" x2="1546.7" y2="916.3" stroke="#404040" stroke-width="3.2"/>
<line x1="1595.9" y1="786.7" x2="1595.9" y2="819.9" stroke="#4a4a4a" stroke-width="1.6"/>
<line x1="1590.1" y1="786.7" x2="1601.7" y2="786.7" stroke="#404040" stroke-width="3.2"/>
<line x1="1590.1" y1="819.9" x2="1601.7" y2="819.9" stroke="#404040" stroke-width="3.2"/>
<text transform="translate(1488.7,1130.76) scale(1.0300,1)" font-size="25.4" font-weight="normal" fill="#000">0</text>
<text transform="translate(1488.96,1069.33) scale(1.0300,1)" font-size="25.4" font-weight="normal" fill="#000">2</text>
<text transform="translate(1488.43,1007.77) scale(1.0300,1)" font-size="25.4" font-weight="normal" fill="#000">4</text>
<text transform="translate(1488.96,946.08) scale(1.0300,1)" font-size="25.4" font-weight="normal" fill="#000">6</text>
<text transform="translate(1488.96,884.52) scale(1.0300,1)" font-size="25.4" font-weight="normal" fill="#000">8</text>
<text transform="translate(1474.31,822.96) scale(1.0300,1)" font-size="25.4" font-weight="normal" fill="#000">10</text>
<text transform="translate(1512.99,1150.9) scale(0.9879,1)" font-size="25.86" font-weight="normal" fill="#000">T2</text>
<text transform="translate(1568.52,1150.9) scale(1.0079,1)" font-size="25.86" font-weight="normal" fill="#000">EPC</text>
<text x="1569.11" y="785.63" font-size="25.6" font-weight="bold" letter-spacing="3.14" stroke="#000" stroke-width="0.35" stroke-linejoin="round">****</text>
<text transform="translate(1462.2,987.57) rotate(-90) scale(0.9964,1)" font-size="26" font-weight="normal" stroke="#000" stroke-width="0.6">PVS count</text>
<text transform="translate(1461.07,689.1) scale(1.0581,1)" font-size="23.42" font-weight="normal" fill="#000" stroke="#000" stroke-width="0.6">number of PVS</text>
<text transform="translate(1504.55,718.6) scale(0.9784,1)" font-size="26.85" font-weight="normal" fill="#000" stroke="#000" stroke-width="0.6">across</text>
<text transform="translate(1477.64,748.9) scale(1.0811,1)" font-size="24.52" font-weight="normal" fill="#000" stroke="#000" stroke-width="0.6">all subjects</text>
</svg>
</body></html>
